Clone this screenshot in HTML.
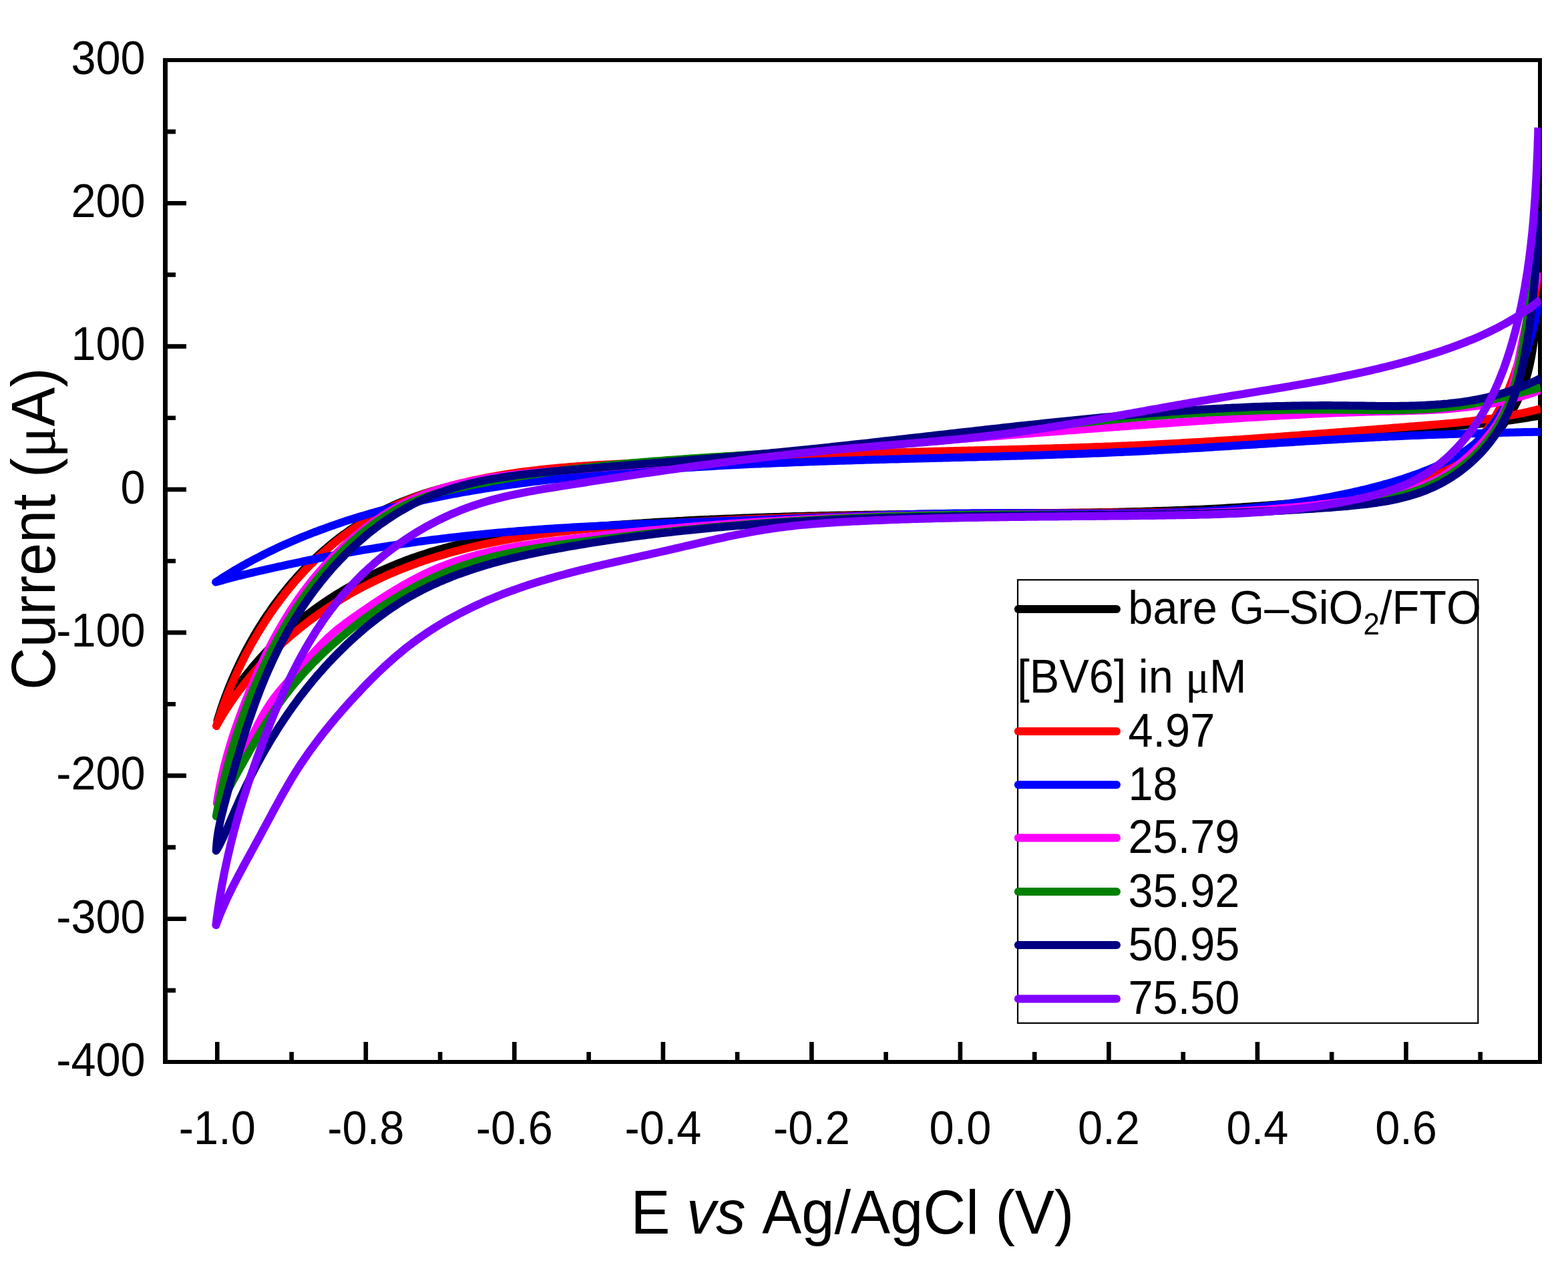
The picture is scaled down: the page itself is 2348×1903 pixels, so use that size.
<!DOCTYPE html>
<html><head><meta charset="utf-8"><title>Cyclic voltammograms</title>
<style>
html,body{margin:0;padding:0;background:#fff;}
svg{display:block;}
text{font-family:"Liberation Sans",Arial,sans-serif;fill:#000;font-kerning:none;}
.sym{font-family:"Liberation Serif","Times New Roman",serif;}
</style></head><body>
<svg xmlns="http://www.w3.org/2000/svg" width="2348" height="1903" viewBox="0 0 2348 1903">
<rect x="0" y="0" width="2348" height="1903" fill="#fff"/>
<path d="M247,1482.9h16 M247,1375.7h32 M247,1268.6h16 M247,1161.4h32 M247,1054.3h16 M247,947.1h32 M247,840.0h16 M247,732.9h32 M247,625.7h16 M247,518.6h32 M247,411.4h16 M247,304.3h32 M247,197.1h16 M325.3,1590v-30 M436.6,1590v-15 M547.8,1590v-30 M659.1,1590v-15 M770.3,1590v-30 M881.6,1590v-15 M992.9,1590v-30 M1104.1,1590v-15 M1215.4,1590v-30 M1326.6,1590v-15 M1437.9,1590v-30 M1549.2,1590v-15 M1660.4,1590v-30 M1771.7,1590v-15 M1882.9,1590v-30 M1994.2,1590v-15 M2105.5,1590v-30 M2216.7,1590v-15" stroke="#000" stroke-width="6.6" fill="none"/>
<rect x="247" y="90" width="2059" height="1500" fill="none" stroke="#000" stroke-width="6"/>
<rect x="244" y="87" width="7" height="1506" fill="#000"/>
<defs><clipPath id="pc"><rect x="250" y="93" width="2057.3" height="1494"/></clipPath></defs>
<g fill="none" stroke-width="12" stroke-linejoin="round" stroke-linecap="butt" clip-path="url(#pc)">
<path stroke="#000000" d="M2307.0,622.1 2302.0,623.0 2297.1,623.9 2292.1,624.7 2287.2,625.5 2282.2,626.3 2277.3,627.1 2272.3,627.8 2267.3,628.6 2262.4,629.2 2257.4,629.9 2252.4,630.6 2247.5,631.2 2242.5,631.8 2237.5,632.4 2232.6,632.9 2227.6,633.5 2222.6,634.0 2217.6,634.5 2212.7,635.0 2207.7,635.5 2202.7,635.9 2197.7,636.4 2192.8,636.8 2187.8,637.3 2182.8,637.7 2177.8,638.1 2172.8,638.5 2167.9,638.9 2162.9,639.3 2157.9,639.6 2152.9,640.0 2147.9,640.4 2142.9,640.7 2137.9,641.1 2132.9,641.5 2128.0,641.8 2123.0,642.2 2118.0,642.5 2113.0,642.9 2108.0,643.2 2103.0,643.6 2098.0,643.9 2093.0,644.3 2088.0,644.6 2083.0,645.0 2078.0,645.3 2073.0,645.7 2068.0,646.1 2063.0,646.4 2058.0,646.8 2053.0,647.1 2048.0,647.5 2043.0,647.9 2038.0,648.2 2033.0,648.6 2028.0,648.9 2022.9,649.3 2017.9,649.6 2012.9,650.0 2007.9,650.4 2002.9,650.7 1997.9,651.1 1992.9,651.4 1987.9,651.8 1982.9,652.1 1977.8,652.5 1972.8,652.8 1967.8,653.2 1962.8,653.6 1957.8,653.9 1952.8,654.3 1947.8,654.6 1942.7,655.0 1937.7,655.3 1932.7,655.7 1927.7,656.0 1922.7,656.3 1917.7,656.7 1912.6,657.0 1907.6,657.4 1902.6,657.7 1897.6,658.0 1892.6,658.4 1887.5,658.7 1882.5,659.1 1877.5,659.4 1872.5,659.7 1867.5,660.0 1862.4,660.4 1857.4,660.7 1852.4,661.0 1847.4,661.3 1842.4,661.7 1837.3,662.0 1832.3,662.3 1827.3,662.6 1822.3,662.9 1817.3,663.2 1812.2,663.5 1807.2,663.8 1802.2,664.1 1797.2,664.4 1792.2,664.7 1787.2,665.0 1782.1,665.3 1777.1,665.6 1772.1,665.9 1767.1,666.2 1762.1,666.4 1757.0,666.7 1752.0,667.0 1747.0,667.3 1742.0,667.5 1737.0,667.8 1732.0,668.0 1726.9,668.3 1721.9,668.6 1716.9,668.8 1711.9,669.1 1706.9,669.3 1701.9,669.5 1696.9,669.8 1691.8,670.0 1686.8,670.2 1681.8,670.5 1676.8,670.7 1671.8,670.9 1666.8,671.1 1661.8,671.3 1656.8,671.5 1651.8,671.7 1646.7,671.9 1641.7,672.1 1636.7,672.3 1631.7,672.5 1626.7,672.7 1621.7,672.9 1616.7,673.1 1611.7,673.3 1606.7,673.5 1601.7,673.6 1596.7,673.8 1591.7,674.0 1586.7,674.2 1581.7,674.3 1576.7,674.5 1571.7,674.7 1566.6,674.8 1561.6,675.0 1556.6,675.1 1551.6,675.3 1546.6,675.5 1541.6,675.6 1536.6,675.8 1531.6,675.9 1526.6,676.0 1521.6,676.2 1516.6,676.3 1511.6,676.5 1506.6,676.6 1501.6,676.8 1496.6,676.9 1491.6,677.0 1486.6,677.2 1481.6,677.3 1476.6,677.4 1471.6,677.6 1466.6,677.7 1461.6,677.8 1456.6,677.9 1451.6,678.1 1446.6,678.2 1441.6,678.3 1436.6,678.4 1431.6,678.6 1426.6,678.7 1421.6,678.8 1416.6,678.9 1411.6,679.1 1406.6,679.2 1401.6,679.3 1396.6,679.4 1391.6,679.5 1386.6,679.7 1381.6,679.8 1376.6,679.9 1371.6,680.0 1366.6,680.1 1361.6,680.3 1356.6,680.4 1351.6,680.5 1346.6,680.6 1341.6,680.7 1336.6,680.9 1331.6,681.0 1326.6,681.1 1321.6,681.2 1316.6,681.3 1311.6,681.5 1306.6,681.6 1301.6,681.7 1296.6,681.8 1291.6,682.0 1286.6,682.1 1281.6,682.2 1276.6,682.4 1271.6,682.5 1266.6,682.6 1261.6,682.8 1256.6,682.9 1251.5,683.0 1246.5,683.2 1241.5,683.3 1236.5,683.4 1231.5,683.6 1226.5,683.7 1221.5,683.9 1216.5,684.0 1211.5,684.2 1206.5,684.3 1201.5,684.5 1196.5,684.6 1191.5,684.8 1186.5,684.9 1181.4,685.1 1176.4,685.3 1171.4,685.4 1166.4,685.6 1161.4,685.8 1156.4,685.9 1151.4,686.1 1146.4,686.3 1141.4,686.5 1136.3,686.6 1131.3,686.8 1126.3,687.0 1121.3,687.2 1116.3,687.4 1111.3,687.6 1106.3,687.8 1101.2,688.0 1096.2,688.2 1091.2,688.4 1086.2,688.6 1081.2,688.8 1076.1,689.1 1071.1,689.3 1066.1,689.5 1061.1,689.7 1056.1,690.0 1051.0,690.2 1046.0,690.4 1041.0,690.7 1036.0,690.9 1030.9,691.2 1025.9,691.4 1020.9,691.7 1015.9,691.9 1010.8,692.2 1005.8,692.5 1000.8,692.7 995.7,693.0 990.7,693.3 985.7,693.6 980.7,693.9 975.6,694.2 970.6,694.5 965.6,694.8 960.5,695.1 955.5,695.4 950.4,695.7 945.4,696.0 940.4,696.4 935.3,696.7 930.3,697.0 925.2,697.4 920.2,697.7 915.2,698.1 910.1,698.4 905.1,698.8 900.0,699.2 895.0,699.5 889.9,699.9 884.9,700.3 879.8,700.7 874.8,701.1 869.7,701.5 864.7,701.9 859.6,702.3 854.6,702.7 849.5,703.1 844.5,703.6 839.4,704.0 834.4,704.4 829.3,704.9 824.3,705.3 819.2,705.8 814.2,706.3 809.1,706.8 804.1,707.3 799.0,707.8 794.0,708.3 788.9,708.9 783.9,709.5 778.9,710.0 773.9,710.7 768.8,711.3 763.8,711.9 758.8,712.6 753.8,713.3 748.8,714.0 743.9,714.7 738.9,715.5 733.9,716.2 729.0,717.0 724.0,717.9 719.1,718.7 714.1,719.6 709.2,720.5 704.3,721.5 699.4,722.5 694.5,723.5 689.7,724.5 684.8,725.6 680.0,726.7 675.2,727.9 670.3,729.1 665.5,730.3 660.8,731.6 656.0,732.9 651.2,734.2 646.5,735.6 641.8,737.0 637.1,738.5 632.4,740.0 627.7,741.6 623.1,743.2 618.4,744.9 613.8,746.6 609.3,748.3 604.7,750.1 600.1,751.9 595.6,753.8 591.1,755.8 586.6,757.8 582.2,759.9 577.7,762.0 573.3,764.1 568.9,766.4 564.6,768.6 560.2,771.0 555.9,773.4 551.6,775.8 547.3,778.4 543.1,780.9 538.9,783.5 534.7,786.2 530.6,789.0 526.4,791.7 522.3,794.6 518.3,797.5 514.2,800.4 510.2,803.4 506.2,806.4 502.3,809.5 498.4,812.7 494.5,815.8 490.6,819.1 486.8,822.3 483.0,825.7 479.2,829.0 475.5,832.4 471.8,835.9 468.2,839.4 464.5,842.9 461.0,846.5 457.4,850.1 453.9,853.7 450.4,857.4 447.0,861.1 443.6,864.9 440.2,868.7 436.9,872.5 433.6,876.4 430.3,880.3 427.1,884.2 423.9,888.2 420.8,892.2 417.7,896.2 414.6,900.3 411.6,904.3 408.6,908.5 405.7,912.6 402.8,916.8 399.9,921.0 397.1,925.2 394.3,929.4 391.6,933.7 388.9,938.0 386.2,942.3 383.6,946.6 381.0,951.0 378.5,955.4 376.0,959.8 373.5,964.2 371.1,968.6 368.7,973.1 366.4,977.6 364.1,982.0 361.8,986.6 359.6,991.1 357.5,995.6 355.3,1000.2 353.2,1004.7 351.2,1009.3 349.2,1013.9 347.2,1018.5 345.3,1023.1 343.4,1027.7 341.6,1032.3 339.8,1037.0 338.0,1041.6 336.3,1046.3 334.6,1050.9 333.0,1055.6 331.4,1060.3 329.9,1064.9 328.4,1069.6 326.9,1074.3 325.5,1079.0 327.5,1074.4 329.6,1070.0 331.8,1065.5 334.2,1061.1 336.6,1056.8 339.1,1052.5 341.7,1048.3 344.3,1044.0 347.1,1039.9 349.9,1035.7 352.7,1031.6 355.6,1027.5 358.6,1023.5 361.6,1019.5 364.7,1015.5 367.8,1011.5 371.0,1007.6 374.2,1003.7 377.4,999.8 380.6,995.9 383.9,992.1 387.3,988.3 390.6,984.5 394.0,980.8 397.4,977.1 400.9,973.4 404.4,969.8 407.9,966.2 411.5,962.7 415.1,959.2 418.7,955.7 422.3,952.2 426.0,948.9 429.7,945.5 433.5,942.2 437.2,938.9 441.0,935.6 444.8,932.4 448.7,929.3 452.6,926.1 456.5,923.1 460.4,920.0 464.4,917.0 468.4,914.0 472.4,911.1 476.5,908.2 480.6,905.3 484.7,902.5 488.8,899.7 493.0,896.9 497.2,894.2 501.4,891.5 505.7,888.9 509.9,886.3 514.2,883.7 518.6,881.2 522.9,878.7 527.3,876.2 531.7,873.8 536.1,871.4 540.5,869.1 545.0,866.8 549.5,864.5 554.0,862.3 558.5,860.1 563.1,857.9 567.6,855.8 572.2,853.7 576.8,851.7 581.5,849.7 586.1,847.7 590.8,845.8 595.4,843.9 600.1,842.1 604.8,840.2 609.5,838.5 614.3,836.7 619.0,835.0 623.8,833.4 628.5,831.7 633.3,830.2 638.1,828.6 642.9,827.1 647.7,825.6 652.6,824.2 657.4,822.8 662.3,821.5 667.1,820.1 672.0,818.9 676.8,817.6 681.7,816.4 686.6,815.3 691.5,814.1 696.4,813.0 701.3,812.0 706.2,811.0 711.1,810.0 716.0,809.0 720.9,808.1 725.8,807.2 730.8,806.3 735.7,805.5 740.6,804.7 745.6,803.9 750.5,803.1 755.5,802.4 760.4,801.7 765.4,801.0 770.4,800.3 775.3,799.7 780.3,799.0 785.3,798.4 790.2,797.8 795.2,797.2 800.2,796.7 805.2,796.1 810.2,795.6 815.2,795.1 820.1,794.6 825.1,794.1 830.1,793.6 835.1,793.2 840.1,792.7 845.1,792.2 850.1,791.8 855.1,791.4 860.1,790.9 865.1,790.5 870.1,790.1 875.1,789.6 880.0,789.2 885.0,788.8 890.0,788.4 895.0,788.0 900.0,787.6 905.0,787.3 910.0,786.9 915.0,786.5 920.0,786.1 925.0,785.8 930.0,785.4 935.0,785.1 940.0,784.7 945.0,784.4 950.0,784.0 955.0,783.7 960.0,783.4 965.0,783.1 970.0,782.8 975.0,782.4 980.0,782.1 985.0,781.8 990.0,781.5 995.0,781.3 1000.0,781.0 1005.0,780.7 1010.0,780.4 1015.0,780.1 1020.0,779.9 1025.0,779.6 1030.0,779.3 1035.0,779.1 1040.0,778.8 1045.0,778.6 1050.0,778.3 1055.0,778.1 1060.0,777.9 1065.0,777.6 1070.0,777.4 1075.0,777.2 1080.1,777.0 1085.1,776.8 1090.1,776.6 1095.1,776.4 1100.1,776.2 1105.1,776.0 1110.1,775.8 1115.1,775.6 1120.1,775.4 1125.1,775.2 1130.1,775.0 1135.1,774.8 1140.1,774.7 1145.2,774.5 1150.2,774.3 1155.2,774.2 1160.2,774.0 1165.2,773.9 1170.2,773.7 1175.2,773.6 1180.2,773.4 1185.2,773.3 1190.3,773.1 1195.3,773.0 1200.3,772.9 1205.3,772.7 1210.3,772.6 1215.3,772.5 1220.3,772.4 1225.3,772.2 1230.4,772.1 1235.4,772.0 1240.4,771.9 1245.4,771.8 1250.4,771.7 1255.4,771.6 1260.4,771.5 1265.5,771.4 1270.5,771.3 1275.5,771.2 1280.5,771.1 1285.5,771.0 1290.6,770.9 1295.6,770.8 1300.6,770.8 1305.6,770.7 1310.6,770.6 1315.6,770.5 1320.7,770.5 1325.7,770.4 1330.7,770.3 1335.7,770.2 1340.7,770.2 1345.8,770.1 1350.8,770.0 1355.8,770.0 1360.8,769.9 1365.8,769.9 1370.9,769.8 1375.9,769.8 1380.9,769.7 1385.9,769.6 1391.0,769.6 1396.0,769.5 1401.0,769.5 1406.0,769.4 1411.1,769.4 1416.1,769.4 1421.1,769.3 1426.1,769.3 1431.2,769.2 1436.2,769.2 1441.2,769.1 1446.2,769.1 1451.3,769.1 1456.3,769.0 1461.3,769.0 1466.3,769.0 1471.4,768.9 1476.4,768.9 1481.4,768.8 1486.4,768.8 1491.5,768.8 1496.5,768.7 1501.5,768.7 1506.6,768.7 1511.6,768.6 1516.6,768.6 1521.6,768.6 1526.7,768.5 1531.7,768.5 1536.7,768.4 1541.8,768.4 1546.8,768.4 1551.8,768.3 1556.8,768.3 1561.9,768.2 1566.9,768.2 1571.9,768.1 1576.9,768.1 1582.0,768.0 1587.0,768.0 1592.0,767.9 1597.0,767.9 1602.1,767.8 1607.1,767.7 1612.1,767.7 1617.1,767.6 1622.2,767.5 1627.2,767.5 1632.2,767.4 1637.2,767.3 1642.3,767.2 1647.3,767.1 1652.3,767.1 1657.3,767.0 1662.3,766.9 1667.4,766.8 1672.4,766.7 1677.4,766.6 1682.4,766.5 1687.4,766.3 1692.4,766.2 1697.4,766.1 1702.5,766.0 1707.5,765.9 1712.5,765.7 1717.5,765.6 1722.5,765.4 1727.5,765.3 1732.5,765.1 1737.5,765.0 1742.5,764.8 1747.5,764.7 1752.5,764.5 1757.6,764.3 1762.6,764.1 1767.6,763.9 1772.6,763.7 1777.6,763.5 1782.6,763.3 1787.6,763.1 1792.5,762.9 1797.5,762.7 1802.5,762.4 1807.5,762.2 1812.5,762.0 1817.5,761.7 1822.5,761.4 1827.5,761.2 1832.5,760.9 1837.5,760.6 1842.4,760.3 1847.4,760.1 1852.4,759.8 1857.4,759.4 1862.4,759.1 1867.3,758.8 1872.3,758.5 1877.3,758.1 1882.3,757.8 1887.2,757.4 1892.2,757.1 1897.2,756.7 1902.1,756.3 1907.1,755.9 1912.0,755.5 1917.0,755.1 1922.0,754.7 1926.9,754.3 1931.9,753.9 1936.8,753.4 1941.8,752.9 1946.8,752.5 1951.7,752.0 1956.7,751.5 1961.7,751.0 1966.6,750.4 1971.6,749.9 1976.6,749.3 1981.5,748.7 1986.5,748.1 1991.5,747.5 1996.5,746.9 2001.5,746.3 2006.4,745.6 2011.4,744.9 2016.4,744.2 2021.4,743.5 2026.4,742.7 2031.5,741.9 2036.5,741.1 2041.5,740.3 2046.5,739.5 2051.6,738.6 2056.6,737.7 2061.6,736.8 2066.7,735.8 2071.7,734.9 2076.7,733.8 2081.7,732.8 2086.7,731.7 2091.7,730.5 2096.7,729.3 2101.6,728.1 2106.5,726.8 2111.4,725.5 2116.3,724.1 2121.2,722.6 2126.0,721.1 2130.8,719.6 2135.6,717.9 2140.3,716.3 2145.0,714.5 2149.7,712.7 2154.3,710.8 2158.9,708.8 2163.4,706.8 2167.9,704.7 2172.3,702.5 2176.7,700.2 2181.1,697.9 2185.4,695.5 2189.6,692.9 2193.8,690.3 2197.9,687.6 2201.9,684.9 2205.9,682.0 2209.8,679.0 2213.6,675.9 2217.4,672.7 2221.1,669.5 2224.7,666.1 2228.3,662.6 2231.8,659.1 2235.2,655.4 2238.5,651.7 2241.7,647.9 2244.9,644.0 2248.0,640.0 2251.0,636.0 2253.9,631.9 2256.7,627.7 2259.4,623.4 2262.0,619.1 2264.6,614.8 2267.0,610.4 2269.4,605.9 2271.7,601.4 2273.8,596.8 2275.9,592.2 2277.9,587.5 2279.8,582.9 2281.5,578.1 2283.2,573.4 2284.8,568.6 2286.2,563.8 2287.6,559.0 2288.8,554.1 2290.0,549.2 2291.1,544.3 2292.1,539.4 2293.1,534.5 2293.9,529.5 2294.8,524.6 2295.5,519.6 2296.3,514.7 2297.0,509.7 2297.6,504.7 2298.2,499.7 2298.8,494.7 2299.4,489.8 2300.0,484.8 2300.6,479.8 2301.2,474.8 2301.8,469.9 2302.4,464.9 2303.0,460.0"/>
<path stroke="#ff0000" d="M2307.0,612.1 2302.1,613.3 2297.2,614.5 2292.3,615.7 2287.4,616.8 2282.5,617.8 2277.6,618.9 2272.6,619.9 2267.7,620.8 2262.8,621.7 2257.8,622.6 2252.9,623.5 2247.9,624.3 2243.0,625.1 2238.0,625.8 2233.1,626.6 2228.1,627.3 2223.1,627.9 2218.1,628.6 2213.2,629.2 2208.2,629.8 2203.2,630.4 2198.2,631.0 2193.2,631.5 2188.3,632.1 2183.3,632.6 2178.3,633.1 2173.3,633.6 2168.3,634.0 2163.3,634.5 2158.3,634.9 2153.3,635.4 2148.3,635.8 2143.3,636.2 2138.3,636.6 2133.3,637.0 2128.3,637.4 2123.3,637.8 2118.3,638.2 2113.3,638.6 2108.3,639.0 2103.3,639.4 2098.2,639.8 2093.2,640.2 2088.2,640.6 2083.2,641.0 2078.2,641.4 2073.2,641.8 2068.2,642.2 2063.2,642.6 2058.2,643.0 2053.2,643.4 2048.2,643.8 2043.2,644.2 2038.2,644.6 2033.2,645.0 2028.2,645.4 2023.2,645.8 2018.2,646.2 2013.2,646.6 2008.2,646.9 2003.2,647.3 1998.1,647.7 1993.1,648.1 1988.1,648.5 1983.1,648.9 1978.1,649.3 1973.1,649.6 1968.1,650.0 1963.1,650.4 1958.1,650.8 1953.1,651.1 1948.1,651.5 1943.1,651.9 1938.1,652.3 1933.1,652.6 1928.1,653.0 1923.0,653.3 1918.0,653.7 1913.0,654.1 1908.0,654.4 1903.0,654.8 1898.0,655.1 1893.0,655.5 1888.0,655.8 1883.0,656.2 1878.0,656.5 1873.0,656.9 1868.0,657.2 1862.9,657.5 1857.9,657.9 1852.9,658.2 1847.9,658.5 1842.9,658.9 1837.9,659.2 1832.9,659.5 1827.9,659.8 1822.9,660.1 1817.9,660.5 1812.8,660.8 1807.8,661.1 1802.8,661.4 1797.8,661.7 1792.8,662.0 1787.8,662.3 1782.8,662.6 1777.7,662.8 1772.7,663.1 1767.7,663.4 1762.7,663.7 1757.7,664.0 1752.7,664.2 1747.7,664.5 1742.6,664.7 1737.6,665.0 1732.6,665.3 1727.6,665.5 1722.6,665.8 1717.6,666.0 1712.5,666.2 1707.5,666.5 1702.5,666.7 1697.5,666.9 1692.5,667.1 1687.4,667.4 1682.4,667.6 1677.4,667.8 1672.4,668.0 1667.4,668.2 1662.3,668.4 1657.3,668.6 1652.3,668.8 1647.3,669.0 1642.2,669.1 1637.2,669.3 1632.2,669.5 1627.2,669.7 1622.2,669.8 1617.1,670.0 1612.1,670.2 1607.1,670.3 1602.1,670.5 1597.0,670.7 1592.0,670.8 1587.0,671.0 1582.0,671.1 1576.9,671.3 1571.9,671.4 1566.9,671.6 1561.9,671.7 1556.8,671.8 1551.8,672.0 1546.8,672.1 1541.8,672.3 1536.7,672.4 1531.7,672.5 1526.7,672.7 1521.7,672.8 1516.6,672.9 1511.6,673.0 1506.6,673.2 1501.6,673.3 1496.6,673.4 1491.5,673.5 1486.5,673.7 1481.5,673.8 1476.5,673.9 1471.4,674.0 1466.4,674.2 1461.4,674.3 1456.4,674.4 1451.3,674.5 1446.3,674.7 1441.3,674.8 1436.3,674.9 1431.3,675.0 1426.2,675.2 1421.2,675.3 1416.2,675.4 1411.2,675.5 1406.2,675.7 1401.2,675.8 1396.1,675.9 1391.1,676.1 1386.1,676.2 1381.1,676.3 1376.1,676.5 1371.1,676.6 1366.0,676.7 1361.0,676.9 1356.0,677.0 1351.0,677.2 1346.0,677.3 1341.0,677.5 1336.0,677.6 1330.9,677.8 1325.9,677.9 1320.9,678.1 1315.9,678.2 1310.9,678.4 1305.9,678.6 1300.9,678.7 1295.9,678.9 1290.9,679.1 1285.9,679.3 1280.9,679.4 1275.9,679.6 1270.9,679.8 1265.9,680.0 1260.9,680.2 1255.9,680.4 1250.9,680.6 1245.9,680.8 1240.9,681.0 1235.9,681.2 1230.9,681.4 1225.8,681.6 1220.8,681.8 1215.8,682.0 1210.8,682.2 1205.8,682.4 1200.8,682.6 1195.8,682.8 1190.8,683.0 1185.8,683.3 1180.8,683.5 1175.8,683.7 1170.8,683.9 1165.8,684.1 1160.8,684.3 1155.8,684.6 1150.8,684.8 1145.8,685.0 1140.8,685.2 1135.8,685.5 1130.8,685.7 1125.8,685.9 1120.8,686.1 1115.8,686.4 1110.8,686.6 1105.8,686.8 1100.7,687.0 1095.7,687.3 1090.7,687.5 1085.7,687.7 1080.7,687.9 1075.7,688.2 1070.7,688.4 1065.6,688.6 1060.6,688.8 1055.6,689.0 1050.6,689.3 1045.5,689.5 1040.5,689.7 1035.5,689.9 1030.5,690.1 1025.4,690.3 1020.4,690.6 1015.4,690.8 1010.3,691.0 1005.3,691.2 1000.3,691.4 995.2,691.6 990.2,691.8 985.1,692.0 980.1,692.2 975.0,692.4 970.0,692.6 965.0,692.8 959.9,693.1 954.9,693.3 949.8,693.5 944.8,693.7 939.7,693.9 934.7,694.2 929.6,694.4 924.6,694.7 919.5,694.9 914.5,695.2 909.4,695.4 904.4,695.7 899.3,696.0 894.3,696.3 889.2,696.6 884.2,696.9 879.1,697.2 874.1,697.6 869.1,697.9 864.0,698.3 859.0,698.7 853.9,699.0 848.9,699.5 843.9,699.9 838.9,700.3 833.8,700.8 828.8,701.2 823.8,701.7 818.8,702.2 813.8,702.8 808.8,703.3 803.8,703.9 798.8,704.5 793.8,705.1 788.8,705.7 783.8,706.3 778.8,707.0 773.8,707.7 768.9,708.4 763.9,709.2 758.9,709.9 754.0,710.7 749.0,711.6 744.1,712.4 739.1,713.3 734.2,714.2 729.2,715.1 724.3,716.1 719.4,717.1 714.5,718.1 709.6,719.1 704.7,720.2 699.8,721.3 694.9,722.5 690.0,723.6 685.1,724.9 680.3,726.1 675.4,727.4 670.6,728.7 665.7,730.1 660.9,731.4 656.1,732.9 651.3,734.3 646.5,735.9 641.8,737.4 637.0,739.0 632.3,740.6 627.6,742.3 622.9,744.0 618.2,745.8 613.5,747.6 608.9,749.4 604.3,751.3 599.7,753.3 595.1,755.3 590.6,757.3 586.0,759.4 581.5,761.5 577.1,763.7 572.6,765.9 568.2,768.2 563.8,770.6 559.5,773.0 555.1,775.4 550.8,777.9 546.6,780.5 542.3,783.1 538.1,785.8 533.9,788.5 529.8,791.3 525.7,794.1 521.6,797.0 517.6,799.9 513.6,802.9 509.6,805.9 505.7,809.0 501.8,812.2 497.9,815.3 494.1,818.6 490.3,821.8 486.5,825.1 482.8,828.5 479.1,831.9 475.4,835.3 471.8,838.8 468.2,842.4 464.6,845.9 461.1,849.5 457.6,853.2 454.2,856.9 450.8,860.6 447.4,864.3 444.0,868.1 440.7,871.9 437.5,875.8 434.2,879.7 431.0,883.6 427.9,887.5 424.8,891.5 421.7,895.5 418.6,899.6 415.6,903.6 412.6,907.7 409.7,911.8 406.8,916.0 403.9,920.1 401.1,924.3 398.3,928.6 395.6,932.8 392.9,937.1 390.2,941.4 387.5,945.7 384.9,950.0 382.4,954.4 379.8,958.7 377.3,963.1 374.9,967.5 372.5,972.0 370.1,976.4 367.7,980.9 365.4,985.4 363.2,989.9 360.9,994.4 358.7,998.9 356.6,1003.5 354.4,1008.0 352.4,1012.6 350.3,1017.2 348.3,1021.8 346.3,1026.4 344.4,1031.0 342.5,1035.6 340.6,1040.3 338.8,1044.9 337.0,1049.6 335.3,1054.2 333.5,1058.9 331.9,1063.6 330.2,1068.2 328.6,1072.9 327.0,1077.6 325.5,1082.3 324.0,1087.0 326.4,1082.7 328.9,1078.3 331.4,1074.0 334.0,1069.8 336.6,1065.5 339.3,1061.3 342.0,1057.2 344.7,1053.0 347.5,1048.9 350.4,1044.8 353.3,1040.7 356.2,1036.7 359.2,1032.7 362.3,1028.7 365.3,1024.7 368.5,1020.8 371.6,1016.9 374.8,1013.1 378.1,1009.3 381.3,1005.5 384.7,1001.7 388.0,998.0 391.4,994.2 394.9,990.6 398.3,986.9 401.8,983.3 405.4,979.8 409.0,976.2 412.6,972.7 416.2,969.2 419.9,965.8 423.6,962.4 427.4,959.0 431.2,955.6 435.0,952.3 438.8,949.1 442.7,945.8 446.6,942.6 450.5,939.4 454.5,936.3 458.5,933.2 462.5,930.1 466.5,927.1 470.6,924.1 474.7,921.2 478.8,918.2 482.9,915.4 487.1,912.5 491.3,909.7 495.5,906.9 499.7,904.2 504.0,901.5 508.3,898.8 512.6,896.2 516.9,893.6 521.2,891.1 525.5,888.6 529.9,886.1 534.3,883.7 538.7,881.3 543.1,879.0 547.5,876.7 552.0,874.4 556.4,872.2 560.9,870.0 565.4,867.8 569.9,865.7 574.4,863.6 578.9,861.6 583.5,859.6 588.0,857.6 592.6,855.7 597.2,853.8 601.8,852.0 606.4,850.1 611.0,848.3 615.6,846.6 620.3,844.9 624.9,843.2 629.6,841.5 634.3,839.9 639.0,838.3 643.7,836.8 648.4,835.3 653.1,833.8 657.8,832.3 662.6,830.9 667.3,829.5 672.1,828.1 676.9,826.8 681.6,825.5 686.4,824.2 691.2,822.9 696.1,821.7 700.9,820.5 705.7,819.3 710.5,818.2 715.4,817.0 720.2,815.9 725.1,814.9 730.0,813.8 734.9,812.8 739.7,811.8 744.6,810.8 749.5,809.9 754.4,809.0 759.4,808.0 764.3,807.2 769.2,806.3 774.2,805.5 779.1,804.6 784.0,803.8 789.0,803.1 794.0,802.3 798.9,801.6 803.9,800.9 808.9,800.1 813.9,799.5 818.8,798.8 823.8,798.2 828.8,797.5 833.8,796.9 838.8,796.3 843.8,795.7 848.8,795.2 853.9,794.6 858.9,794.1 863.9,793.5 868.9,793.0 874.0,792.5 879.0,792.1 884.0,791.6 889.1,791.1 894.1,790.7 899.1,790.3 904.2,789.8 909.2,789.4 914.3,789.0 919.3,788.6 924.4,788.2 929.4,787.9 934.5,787.5 939.5,787.1 944.6,786.8 949.6,786.5 954.7,786.1 959.7,785.8 964.8,785.5 969.8,785.2 974.9,784.9 979.9,784.6 985.0,784.3 990.0,784.0 995.1,783.7 1000.1,783.4 1005.2,783.1 1010.2,782.8 1015.2,782.5 1020.3,782.3 1025.3,782.0 1030.4,781.7 1035.4,781.5 1040.4,781.2 1045.4,781.0 1050.5,780.7 1055.5,780.5 1060.5,780.2 1065.6,780.0 1070.6,779.7 1075.6,779.5 1080.6,779.2 1085.7,779.0 1090.7,778.8 1095.7,778.6 1100.7,778.3 1105.7,778.1 1110.7,777.9 1115.8,777.7 1120.8,777.5 1125.8,777.3 1130.8,777.0 1135.8,776.8 1140.8,776.6 1145.8,776.4 1150.8,776.2 1155.8,776.1 1160.8,775.9 1165.8,775.7 1170.8,775.5 1175.9,775.3 1180.9,775.1 1185.9,775.0 1190.9,774.8 1195.9,774.6 1200.9,774.4 1205.9,774.3 1210.8,774.1 1215.8,773.9 1220.8,773.8 1225.8,773.6 1230.8,773.5 1235.8,773.3 1240.8,773.2 1245.8,773.0 1250.8,772.9 1255.8,772.7 1260.8,772.6 1265.8,772.5 1270.8,772.3 1275.8,772.2 1280.8,772.1 1285.7,771.9 1290.7,771.8 1295.7,771.7 1300.7,771.6 1305.7,771.5 1310.7,771.3 1315.7,771.2 1320.7,771.1 1325.7,771.0 1330.6,770.9 1335.6,770.8 1340.6,770.7 1345.6,770.6 1350.6,770.5 1355.6,770.4 1360.6,770.3 1365.6,770.2 1370.6,770.1 1375.5,770.0 1380.5,769.9 1385.5,769.9 1390.5,769.8 1395.5,769.7 1400.5,769.6 1405.5,769.5 1410.5,769.5 1415.5,769.4 1420.4,769.3 1425.4,769.2 1430.4,769.2 1435.4,769.1 1440.4,769.0 1445.4,769.0 1450.4,768.9 1455.4,768.9 1460.4,768.8 1465.4,768.7 1470.4,768.7 1475.4,768.6 1480.4,768.6 1485.3,768.5 1490.3,768.5 1495.3,768.4 1500.3,768.4 1505.3,768.3 1510.3,768.3 1515.3,768.3 1520.3,768.2 1525.3,768.2 1530.3,768.2 1535.3,768.1 1540.3,768.1 1545.3,768.1 1550.4,768.0 1555.4,768.0 1560.4,768.0 1565.4,767.9 1570.4,767.9 1575.4,767.9 1580.4,767.9 1585.4,767.9 1590.4,767.8 1595.4,767.8 1600.5,767.8 1605.5,767.8 1610.5,767.8 1615.5,767.8 1620.5,767.7 1625.5,767.7 1630.6,767.7 1635.6,767.7 1640.6,767.7 1645.6,767.7 1650.7,767.6 1655.7,767.6 1660.7,767.6 1665.7,767.6 1670.8,767.6 1675.8,767.5 1680.8,767.5 1685.8,767.5 1690.9,767.4 1695.9,767.4 1700.9,767.4 1706.0,767.3 1711.0,767.3 1716.0,767.2 1721.0,767.2 1726.1,767.1 1731.1,767.0 1736.1,766.9 1741.1,766.9 1746.2,766.8 1751.2,766.7 1756.2,766.6 1761.3,766.5 1766.3,766.4 1771.3,766.3 1776.3,766.1 1781.4,766.0 1786.4,765.9 1791.4,765.7 1796.4,765.6 1801.4,765.4 1806.5,765.2 1811.5,765.0 1816.5,764.8 1821.5,764.6 1826.5,764.4 1831.6,764.2 1836.6,764.0 1841.6,763.7 1846.6,763.5 1851.6,763.2 1856.6,762.9 1861.6,762.6 1866.6,762.3 1871.6,762.0 1876.6,761.7 1881.7,761.4 1886.7,761.0 1891.7,760.6 1896.7,760.3 1901.6,759.9 1906.6,759.5 1911.6,759.0 1916.6,758.6 1921.6,758.2 1926.6,757.7 1931.6,757.2 1936.6,756.7 1941.5,756.2 1946.5,755.7 1951.5,755.2 1956.5,754.6 1961.4,754.0 1966.4,753.4 1971.4,752.8 1976.3,752.2 1981.3,751.6 1986.3,750.9 1991.2,750.2 1996.2,749.5 2001.1,748.8 2006.1,748.1 2011.0,747.3 2016.0,746.5 2020.9,745.7 2025.8,744.9 2030.8,744.0 2035.7,743.1 2040.6,742.2 2045.5,741.2 2050.4,740.2 2055.3,739.2 2060.2,738.1 2065.1,737.0 2070.0,735.8 2074.8,734.6 2079.7,733.3 2084.5,732.0 2089.4,730.6 2094.2,729.2 2099.0,727.7 2103.8,726.1 2108.6,724.5 2113.4,722.8 2118.1,721.1 2122.8,719.3 2127.5,717.4 2132.2,715.4 2136.8,713.4 2141.4,711.3 2146.0,709.2 2150.5,706.9 2154.9,704.6 2159.3,702.2 2163.7,699.7 2167.9,697.2 2172.2,694.5 2176.3,691.8 2180.4,689.0 2184.4,686.1 2188.3,683.1 2192.2,680.0 2195.9,676.9 2199.6,673.6 2203.2,670.3 2206.7,666.8 2210.1,663.3 2213.4,659.6 2216.6,655.9 2219.7,652.1 2222.7,648.2 2225.7,644.3 2228.6,640.2 2231.3,636.1 2234.1,631.9 2236.7,627.7 2239.2,623.4 2241.7,619.0 2244.1,614.6 2246.5,610.2 2248.7,605.7 2250.9,601.1 2253.1,596.5 2255.2,591.9 2257.2,587.2 2259.2,582.5 2261.1,577.8 2262.9,573.0 2264.7,568.3 2266.5,563.5 2268.2,558.7 2269.8,553.9 2271.5,549.0 2273.0,544.2 2274.6,539.4 2276.1,534.5 2277.5,529.7 2278.9,524.9 2280.3,520.1 2281.7,515.2 2283.0,510.4 2284.3,505.6 2285.5,500.7 2286.7,495.9 2287.9,491.1 2289.1,486.2 2290.3,481.4 2291.4,476.5 2292.5,471.7 2293.5,466.8 2294.6,462.0 2295.6,457.1 2296.6,452.2 2297.6,447.3 2298.6,442.4 2299.6,437.6 2300.5,432.7 2301.4,427.7 2302.3,422.8 2303.2,417.9 2304.1,413.0 2305.0,408.0"/>
<path stroke="#0000ff" d="M2307.0,646.6 2302.0,646.7 2297.0,646.8 2291.9,646.9 2286.9,647.0 2281.9,647.1 2276.9,647.2 2271.8,647.3 2266.8,647.4 2261.8,647.5 2256.8,647.7 2251.8,647.8 2246.7,647.9 2241.7,648.0 2236.7,648.2 2231.7,648.3 2226.7,648.4 2221.7,648.5 2216.6,648.7 2211.6,648.8 2206.6,649.0 2201.6,649.1 2196.6,649.2 2191.6,649.4 2186.5,649.5 2181.5,649.7 2176.5,649.9 2171.5,650.0 2166.5,650.2 2161.5,650.4 2156.4,650.5 2151.4,650.7 2146.4,650.9 2141.4,651.1 2136.4,651.3 2131.4,651.5 2126.3,651.7 2121.3,651.9 2116.3,652.1 2111.3,652.3 2106.3,652.5 2101.3,652.7 2096.3,652.9 2091.2,653.2 2086.2,653.4 2081.2,653.6 2076.2,653.9 2071.2,654.1 2066.2,654.4 2061.1,654.6 2056.1,654.9 2051.1,655.2 2046.1,655.4 2041.1,655.7 2036.1,656.0 2031.0,656.2 2026.0,656.5 2021.0,656.8 2016.0,657.1 2011.0,657.4 2006.0,657.6 2000.9,657.9 1995.9,658.2 1990.9,658.5 1985.9,658.8 1980.9,659.1 1975.8,659.4 1970.8,659.7 1965.8,660.0 1960.8,660.3 1955.8,660.6 1950.8,661.0 1945.7,661.3 1940.7,661.6 1935.7,661.9 1930.7,662.2 1925.7,662.5 1920.7,662.8 1915.6,663.1 1910.6,663.5 1905.6,663.8 1900.6,664.1 1895.6,664.4 1890.5,664.7 1885.5,665.1 1880.5,665.4 1875.5,665.7 1870.5,666.0 1865.5,666.3 1860.4,666.6 1855.4,667.0 1850.4,667.3 1845.4,667.6 1840.4,667.9 1835.3,668.2 1830.3,668.5 1825.3,668.8 1820.3,669.1 1815.3,669.5 1810.3,669.8 1805.2,670.1 1800.2,670.4 1795.2,670.7 1790.2,671.0 1785.2,671.3 1780.1,671.6 1775.1,671.9 1770.1,672.1 1765.1,672.4 1760.1,672.7 1755.0,673.0 1750.0,673.3 1745.0,673.6 1740.0,673.8 1735.0,674.1 1730.0,674.4 1724.9,674.6 1719.9,674.9 1714.9,675.2 1709.9,675.4 1704.9,675.7 1699.8,675.9 1694.8,676.2 1689.8,676.4 1684.8,676.6 1679.8,676.9 1674.7,677.1 1669.7,677.3 1664.7,677.5 1659.7,677.7 1654.7,678.0 1649.7,678.2 1644.6,678.4 1639.6,678.6 1634.6,678.8 1629.6,679.0 1624.6,679.2 1619.5,679.4 1614.5,679.6 1609.5,679.7 1604.5,679.9 1599.5,680.1 1594.4,680.3 1589.4,680.5 1584.4,680.6 1579.4,680.8 1574.4,681.0 1569.4,681.1 1564.3,681.3 1559.3,681.5 1554.3,681.6 1549.3,681.8 1544.3,681.9 1539.2,682.1 1534.2,682.2 1529.2,682.4 1524.2,682.5 1519.2,682.7 1514.2,682.8 1509.1,683.0 1504.1,683.1 1499.1,683.3 1494.1,683.4 1489.1,683.5 1484.0,683.7 1479.0,683.8 1474.0,684.0 1469.0,684.1 1464.0,684.2 1459.0,684.4 1453.9,684.5 1448.9,684.6 1443.9,684.8 1438.9,684.9 1433.9,685.0 1428.8,685.1 1423.8,685.3 1418.8,685.4 1413.8,685.5 1408.8,685.7 1403.8,685.8 1398.7,685.9 1393.7,686.1 1388.7,686.2 1383.7,686.3 1378.7,686.4 1373.6,686.6 1368.6,686.7 1363.6,686.8 1358.6,687.0 1353.6,687.1 1348.6,687.2 1343.5,687.4 1338.5,687.5 1333.5,687.6 1328.5,687.8 1323.5,687.9 1318.5,688.1 1313.4,688.2 1308.4,688.3 1303.4,688.5 1298.4,688.6 1293.4,688.8 1288.4,688.9 1283.3,689.1 1278.3,689.2 1273.3,689.4 1268.3,689.5 1263.3,689.7 1258.3,689.8 1253.2,690.0 1248.2,690.2 1243.2,690.3 1238.2,690.5 1233.2,690.7 1228.2,690.8 1223.1,691.0 1218.1,691.2 1213.1,691.3 1208.1,691.5 1203.1,691.7 1198.1,691.9 1193.0,692.1 1188.0,692.3 1183.0,692.5 1178.0,692.7 1173.0,692.9 1168.0,693.1 1163.0,693.3 1157.9,693.5 1152.9,693.7 1147.9,693.9 1142.9,694.1 1137.9,694.4 1132.9,694.6 1127.9,694.8 1122.8,695.0 1117.8,695.3 1112.8,695.5 1107.8,695.8 1102.8,696.0 1097.8,696.3 1092.7,696.5 1087.7,696.8 1082.7,697.1 1077.7,697.3 1072.7,697.6 1067.7,697.9 1062.7,698.2 1057.7,698.5 1052.6,698.7 1047.6,699.0 1042.6,699.3 1037.6,699.7 1032.6,700.0 1027.6,700.3 1022.6,700.6 1017.5,700.9 1012.5,701.3 1007.5,701.6 1002.5,701.9 997.5,702.3 992.5,702.6 987.5,703.0 982.5,703.4 977.4,703.7 972.4,704.1 967.4,704.5 962.4,704.9 957.4,705.3 952.4,705.7 947.4,706.1 942.4,706.5 937.3,706.9 932.3,707.3 927.3,707.8 922.3,708.2 917.3,708.7 912.3,709.1 907.3,709.6 902.3,710.0 897.3,710.5 892.2,711.0 887.2,711.5 882.2,711.9 877.2,712.4 872.2,712.9 867.2,713.5 862.2,714.0 857.2,714.5 852.2,715.0 847.2,715.6 842.1,716.1 837.1,716.7 832.1,717.2 827.1,717.8 822.1,718.4 817.1,719.0 812.1,719.6 807.1,720.2 802.1,720.8 797.1,721.4 792.1,722.1 787.1,722.7 782.1,723.4 777.1,724.0 772.1,724.7 767.1,725.4 762.1,726.1 757.1,726.8 752.1,727.5 747.1,728.3 742.2,729.0 737.2,729.8 732.2,730.6 727.2,731.3 722.3,732.1 717.3,733.0 712.3,733.8 707.4,734.6 702.4,735.5 697.4,736.3 692.5,737.2 687.5,738.1 682.6,739.0 677.6,739.9 672.7,740.9 667.8,741.8 662.8,742.8 657.9,743.8 653.0,744.8 648.1,745.8 643.2,746.8 638.3,747.9 633.4,749.0 628.5,750.1 623.6,751.2 618.7,752.3 613.8,753.4 608.9,754.6 604.1,755.7 599.2,756.9 594.3,758.2 589.5,759.4 584.6,760.6 579.8,761.9 575.0,763.2 570.1,764.5 565.3,765.8 560.5,767.2 555.7,768.6 550.9,770.0 546.1,771.4 541.3,772.8 536.5,774.3 531.7,775.7 527.0,777.2 522.2,778.8 517.4,780.3 512.7,781.9 508.0,783.5 503.2,785.1 498.5,786.7 493.8,788.4 489.1,790.1 484.4,791.8 479.7,793.5 475.0,795.3 470.3,797.0 465.7,798.8 461.0,800.7 456.4,802.5 451.7,804.4 447.1,806.3 442.5,808.3 437.9,810.2 433.3,812.2 428.7,814.2 424.1,816.3 419.6,818.3 415.0,820.4 410.5,822.6 406.0,824.7 401.5,826.9 397.0,829.1 392.5,831.4 388.1,833.7 383.6,836.0 379.2,838.3 374.8,840.7 370.4,843.1 366.0,845.5 361.6,848.0 357.3,850.5 353.0,853.0 348.6,855.5 344.4,858.1 340.1,860.8 335.8,863.4 331.6,866.1 327.4,868.9 323.2,871.6 328.0,870.2 332.7,868.9 337.5,867.5 342.3,866.2 347.1,865.0 351.9,863.7 356.7,862.5 361.6,861.3 366.4,860.1 371.3,859.0 376.1,857.8 381.0,856.7 385.9,855.5 390.7,854.4 395.6,853.3 400.5,852.2 405.4,851.1 410.3,850.0 415.2,848.9 420.1,847.8 425.0,846.8 429.9,845.7 434.8,844.6 439.7,843.6 444.6,842.6 449.5,841.5 454.4,840.5 459.3,839.5 464.2,838.5 469.1,837.5 474.1,836.5 479.0,835.5 483.9,834.6 488.8,833.6 493.8,832.7 498.7,831.7 503.6,830.8 508.6,829.9 513.5,829.0 518.4,828.1 523.4,827.2 528.3,826.3 533.2,825.4 538.2,824.6 543.1,823.7 548.1,822.9 553.0,822.1 558.0,821.3 562.9,820.5 567.9,819.7 572.8,818.9 577.8,818.1 582.7,817.3 587.7,816.6 592.7,815.8 597.6,815.1 602.6,814.4 607.6,813.7 612.5,813.0 617.5,812.3 622.5,811.6 627.4,810.9 632.4,810.2 637.4,809.6 642.4,808.9 647.3,808.3 652.3,807.7 657.3,807.1 662.3,806.5 667.3,805.9 672.2,805.3 677.2,804.7 682.2,804.1 687.2,803.6 692.2,803.0 697.2,802.5 702.2,801.9 707.2,801.4 712.1,800.9 717.1,800.4 722.1,799.9 727.1,799.4 732.1,799.0 737.1,798.5 742.1,798.0 747.1,797.6 752.1,797.1 757.1,796.7 762.1,796.3 767.1,795.9 772.1,795.5 777.1,795.1 782.2,794.7 787.2,794.3 792.2,793.9 797.2,793.5 802.2,793.2 807.2,792.8 812.2,792.5 817.2,792.1 822.2,791.8 827.2,791.4 832.3,791.1 837.3,790.8 842.3,790.5 847.3,790.2 852.3,789.9 857.3,789.6 862.3,789.3 867.4,789.0 872.4,788.7 877.4,788.5 882.4,788.2 887.4,787.9 892.5,787.7 897.5,787.4 902.5,787.2 907.5,786.9 912.5,786.7 917.6,786.4 922.6,786.2 927.6,786.0 932.6,785.8 937.7,785.5 942.7,785.3 947.7,785.1 952.7,784.9 957.7,784.7 962.8,784.5 967.8,784.3 972.8,784.1 977.8,783.9 982.9,783.7 987.9,783.5 992.9,783.3 997.9,783.1 1003.0,782.9 1008.0,782.7 1013.0,782.6 1018.0,782.4 1023.0,782.2 1028.1,782.0 1033.1,781.8 1038.1,781.7 1043.1,781.5 1048.2,781.3 1053.2,781.2 1058.2,781.0 1063.2,780.8 1068.2,780.6 1073.3,780.5 1078.3,780.3 1083.3,780.1 1088.3,780.0 1093.4,779.8 1098.4,779.6 1103.4,779.4 1108.4,779.3 1113.4,779.1 1118.4,778.9 1123.5,778.7 1128.5,778.6 1133.5,778.4 1138.5,778.2 1143.5,778.0 1148.5,777.8 1153.6,777.7 1158.6,777.5 1163.6,777.3 1168.6,777.1 1173.6,776.9 1178.6,776.7 1183.6,776.5 1188.6,776.3 1193.6,776.1 1198.6,775.9 1203.7,775.7 1208.7,775.5 1213.7,775.3 1218.7,775.1 1223.7,774.9 1228.7,774.7 1233.7,774.5 1238.7,774.4 1243.7,774.2 1248.7,774.0 1253.7,773.8 1258.7,773.6 1263.7,773.4 1268.7,773.2 1273.8,773.0 1278.8,772.8 1283.8,772.6 1288.8,772.4 1293.8,772.3 1298.8,772.1 1303.8,771.9 1308.8,771.7 1313.8,771.6 1318.8,771.4 1323.8,771.2 1328.8,771.1 1333.8,770.9 1338.8,770.7 1343.9,770.6 1348.9,770.4 1353.9,770.3 1358.9,770.1 1363.9,770.0 1368.9,769.9 1373.9,769.7 1378.9,769.6 1384.0,769.5 1389.0,769.4 1394.0,769.3 1399.0,769.1 1404.0,769.0 1409.0,768.9 1414.0,768.9 1419.1,768.8 1424.1,768.7 1429.1,768.6 1434.1,768.5 1439.1,768.5 1444.2,768.4 1449.2,768.4 1454.2,768.3 1459.2,768.3 1464.3,768.2 1469.3,768.2 1474.3,768.2 1479.4,768.2 1484.4,768.2 1489.4,768.2 1494.5,768.2 1499.5,768.2 1504.5,768.2 1509.6,768.2 1514.6,768.2 1519.6,768.2 1524.7,768.2 1529.7,768.2 1534.7,768.3 1539.8,768.3 1544.8,768.3 1549.8,768.3 1554.9,768.4 1559.9,768.4 1565.0,768.4 1570.0,768.4 1575.0,768.5 1580.1,768.5 1585.1,768.5 1590.1,768.6 1595.2,768.6 1600.2,768.6 1605.3,768.6 1610.3,768.6 1615.3,768.7 1620.4,768.7 1625.4,768.7 1630.5,768.7 1635.5,768.7 1640.5,768.7 1645.6,768.7 1650.6,768.7 1655.6,768.7 1660.7,768.7 1665.7,768.7 1670.7,768.7 1675.8,768.6 1680.8,768.6 1685.8,768.6 1690.9,768.5 1695.9,768.5 1700.9,768.4 1706.0,768.3 1711.0,768.3 1716.0,768.2 1721.0,768.1 1726.1,768.0 1731.1,767.9 1736.1,767.8 1741.1,767.7 1746.2,767.5 1751.2,767.4 1756.2,767.2 1761.2,767.1 1766.2,766.9 1771.3,766.7 1776.3,766.5 1781.3,766.3 1786.3,766.1 1791.3,765.9 1796.3,765.7 1801.3,765.4 1806.3,765.1 1811.3,764.9 1816.3,764.6 1821.3,764.3 1826.3,764.0 1831.3,763.6 1836.3,763.3 1841.3,762.9 1846.3,762.6 1851.3,762.2 1856.3,761.8 1861.3,761.4 1866.3,760.9 1871.3,760.5 1876.2,760.0 1881.2,759.6 1886.2,759.1 1891.2,758.5 1896.1,758.0 1901.1,757.5 1906.1,756.9 1911.1,756.3 1916.0,755.7 1921.0,755.1 1925.9,754.5 1930.9,753.8 1935.8,753.1 1940.8,752.4 1945.7,751.7 1950.7,751.0 1955.6,750.2 1960.6,749.4 1965.5,748.6 1970.5,747.8 1975.4,747.0 1980.3,746.1 1985.2,745.2 1990.2,744.3 1995.1,743.4 2000.0,742.4 2004.9,741.4 2009.8,740.4 2014.8,739.4 2019.7,738.4 2024.6,737.3 2029.5,736.2 2034.4,735.1 2039.3,733.9 2044.2,732.8 2049.0,731.6 2053.9,730.3 2058.8,729.1 2063.7,727.8 2068.5,726.5 2073.4,725.1 2078.3,723.8 2083.1,722.4 2087.9,720.9 2092.8,719.4 2097.6,717.9 2102.4,716.4 2107.2,714.8 2112.0,713.1 2116.7,711.5 2121.5,709.8 2126.3,708.0 2131.0,706.2 2135.7,704.4 2140.4,702.5 2145.1,700.6 2149.8,698.6 2154.4,696.6 2159.0,694.5 2163.6,692.3 2168.2,690.1 2172.7,687.8 2177.1,685.4 2181.5,683.0 2185.8,680.5 2190.0,677.8 2194.2,675.1 2198.3,672.3 2202.2,669.3 2206.1,666.3 2209.9,663.1 2213.6,659.8 2217.2,656.4 2220.6,652.9 2224.0,649.4 2227.3,645.7 2230.5,641.9 2233.6,638.1 2236.6,634.1 2239.4,630.1 2242.2,626.0 2244.9,621.8 2247.5,617.5 2250.0,613.2 2252.3,608.8 2254.7,604.4 2256.9,599.9 2259.0,595.4 2261.1,590.8 2263.2,586.2 2265.2,581.6 2267.1,576.9 2269.0,572.2 2270.9,567.5 2272.7,562.8 2274.5,558.1 2276.2,553.4 2277.9,548.6 2279.6,543.9 2281.3,539.1 2282.9,534.4 2284.5,529.6 2286.1,524.8 2287.6,520.1 2289.1,515.3 2290.6,510.5 2292.0,505.7 2293.4,500.9 2294.7,496.1 2296.0,491.3 2297.2,486.4 2298.4,481.6 2299.5,476.7 2300.5,471.8 2301.5,466.9 2302.4,461.9 2303.2,457.0 2304.0,452.0"/>
<path stroke="#ff00ff" d="M2307.0,583.8 2302.2,585.6 2297.4,587.3 2292.6,589.0 2287.8,590.6 2282.9,592.1 2278.1,593.6 2273.3,595.0 2268.4,596.3 2263.5,597.6 2258.7,598.8 2253.8,600.0 2248.9,601.1 2244.0,602.1 2239.1,603.1 2234.2,604.0 2229.3,604.9 2224.4,605.7 2219.4,606.5 2214.5,607.3 2209.6,608.0 2204.6,608.6 2199.7,609.2 2194.7,609.8 2189.8,610.4 2184.8,610.9 2179.8,611.3 2174.9,611.8 2169.9,612.2 2164.9,612.5 2159.9,612.9 2154.9,613.2 2149.9,613.5 2144.9,613.8 2139.9,614.0 2134.9,614.2 2129.9,614.4 2124.9,614.6 2119.9,614.8 2114.9,615.0 2109.9,615.1 2104.9,615.3 2099.9,615.4 2094.8,615.5 2089.8,615.6 2084.8,615.8 2079.8,615.9 2074.8,616.0 2069.7,616.1 2064.7,616.2 2059.7,616.3 2054.7,616.5 2049.6,616.6 2044.6,616.7 2039.6,616.9 2034.6,617.0 2029.5,617.2 2024.5,617.4 2019.5,617.5 2014.5,617.7 2009.5,617.9 2004.4,618.1 1999.4,618.3 1994.4,618.5 1989.4,618.7 1984.3,618.9 1979.3,619.2 1974.3,619.4 1969.3,619.6 1964.3,619.9 1959.2,620.1 1954.2,620.4 1949.2,620.6 1944.2,620.9 1939.2,621.2 1934.2,621.4 1929.1,621.7 1924.1,622.0 1919.1,622.3 1914.1,622.6 1909.1,622.9 1904.1,623.1 1899.0,623.4 1894.0,623.7 1889.0,624.1 1884.0,624.4 1879.0,624.7 1874.0,625.0 1869.0,625.3 1863.9,625.6 1858.9,626.0 1853.9,626.3 1848.9,626.6 1843.9,626.9 1838.9,627.3 1833.9,627.6 1828.9,627.9 1823.9,628.3 1818.8,628.6 1813.8,629.0 1808.8,629.3 1803.8,629.7 1798.8,630.0 1793.8,630.3 1788.8,630.7 1783.8,631.0 1778.8,631.4 1773.8,631.7 1768.8,632.1 1763.8,632.5 1758.8,632.8 1753.8,633.2 1748.8,633.5 1743.7,633.9 1738.7,634.2 1733.7,634.6 1728.7,635.0 1723.7,635.3 1718.7,635.7 1713.7,636.0 1708.7,636.4 1703.7,636.8 1698.7,637.1 1693.7,637.5 1688.7,637.9 1683.7,638.2 1678.7,638.6 1673.7,639.0 1668.7,639.3 1663.7,639.7 1658.7,640.1 1653.7,640.5 1648.7,640.8 1643.7,641.2 1638.7,641.6 1633.7,642.0 1628.7,642.3 1623.7,642.7 1618.7,643.1 1613.7,643.5 1608.8,643.9 1603.8,644.2 1598.8,644.6 1593.8,645.0 1588.8,645.4 1583.8,645.8 1578.8,646.2 1573.8,646.5 1568.8,646.9 1563.8,647.3 1558.8,647.7 1553.8,648.1 1548.8,648.5 1543.8,648.9 1538.8,649.3 1533.8,649.6 1528.8,650.0 1523.8,650.4 1518.8,650.8 1513.8,651.2 1508.8,651.6 1503.8,652.0 1498.9,652.4 1493.9,652.8 1488.9,653.2 1483.9,653.6 1478.9,654.0 1473.9,654.4 1468.9,654.8 1463.9,655.2 1458.9,655.6 1453.9,656.0 1448.9,656.4 1443.9,656.8 1438.9,657.2 1433.9,657.6 1428.9,658.0 1423.9,658.4 1418.9,658.8 1414.0,659.2 1409.0,659.6 1404.0,660.0 1399.0,660.4 1394.0,660.8 1389.0,661.2 1384.0,661.6 1379.0,662.0 1374.0,662.4 1369.0,662.8 1364.0,663.2 1359.0,663.6 1354.0,664.0 1349.0,664.4 1344.0,664.8 1339.0,665.2 1334.0,665.6 1329.0,666.0 1324.0,666.4 1319.1,666.8 1314.1,667.2 1309.1,667.6 1304.1,668.0 1299.1,668.4 1294.1,668.8 1289.1,669.3 1284.1,669.7 1279.1,670.1 1274.1,670.5 1269.1,670.9 1264.1,671.3 1259.1,671.7 1254.1,672.1 1249.1,672.5 1244.1,672.9 1239.1,673.3 1234.1,673.7 1229.1,674.1 1224.1,674.5 1219.1,674.9 1214.1,675.3 1209.1,675.7 1204.1,676.1 1199.1,676.6 1194.1,677.0 1189.1,677.4 1184.1,677.8 1179.1,678.2 1174.1,678.6 1169.1,679.0 1164.1,679.4 1159.1,679.8 1154.1,680.2 1149.1,680.6 1144.1,681.0 1139.0,681.4 1134.0,681.8 1129.0,682.2 1124.0,682.6 1119.0,683.0 1114.0,683.4 1109.0,683.8 1104.0,684.2 1099.0,684.6 1094.0,685.0 1089.0,685.4 1084.0,685.8 1079.0,686.2 1073.9,686.6 1068.9,687.0 1063.9,687.4 1058.9,687.8 1053.9,688.2 1048.9,688.6 1043.9,689.0 1038.9,689.4 1033.9,689.8 1028.8,690.2 1023.8,690.6 1018.8,691.0 1013.8,691.4 1008.8,691.8 1003.8,692.2 998.7,692.5 993.7,692.9 988.7,693.3 983.7,693.7 978.7,694.1 973.6,694.5 968.6,694.9 963.6,695.3 958.6,695.7 953.6,696.1 948.5,696.4 943.5,696.8 938.5,697.2 933.5,697.6 928.4,698.0 923.4,698.4 918.4,698.7 913.4,699.1 908.3,699.5 903.3,699.9 898.3,700.3 893.2,700.6 888.2,701.0 883.2,701.4 878.2,701.8 873.1,702.2 868.1,702.5 863.1,702.9 858.0,703.3 853.0,703.7 848.0,704.0 842.9,704.4 837.9,704.8 832.8,705.1 827.8,705.5 822.8,705.9 817.7,706.3 812.7,706.7 807.7,707.1 802.7,707.5 797.6,708.0 792.6,708.4 787.6,708.9 782.6,709.4 777.6,709.9 772.6,710.4 767.6,710.9 762.7,711.5 757.7,712.1 752.7,712.7 747.8,713.4 742.8,714.1 737.9,714.8 732.9,715.5 728.0,716.3 723.1,717.1 718.2,718.0 713.3,718.9 708.5,719.8 703.6,720.8 698.8,721.8 693.9,722.9 689.1,724.0 684.3,725.1 679.5,726.3 674.7,727.6 670.0,728.9 665.2,730.3 660.5,731.7 655.8,733.1 651.1,734.7 646.5,736.3 641.8,737.9 637.2,739.6 632.6,741.4 628.0,743.3 623.4,745.2 618.8,747.2 614.3,749.2 609.8,751.4 605.3,753.6 600.9,755.8 596.4,758.2 592.0,760.6 587.6,763.1 583.3,765.7 578.9,768.4 574.6,771.1 570.4,773.9 566.1,776.7 561.9,779.6 557.7,782.6 553.6,785.6 549.5,788.6 545.5,791.7 541.4,794.9 537.5,798.1 533.5,801.3 529.7,804.6 525.8,807.9 522.0,811.2 518.3,814.6 514.6,818.1 510.9,821.5 507.3,825.0 503.7,828.5 500.1,832.1 496.6,835.7 493.2,839.3 489.8,843.0 486.4,846.7 483.1,850.4 479.8,854.2 476.5,857.9 473.3,861.8 470.1,865.6 467.0,869.5 463.9,873.4 460.9,877.4 457.9,881.3 454.9,885.3 451.9,889.4 449.0,893.4 446.2,897.5 443.4,901.6 440.6,905.8 437.8,909.9 435.1,914.1 432.4,918.4 429.8,922.6 427.2,926.9 424.6,931.2 422.1,935.5 419.6,939.8 417.1,944.2 414.6,948.5 412.2,952.9 409.8,957.3 407.5,961.8 405.2,966.2 402.9,970.7 400.6,975.2 398.4,979.7 396.2,984.2 394.0,988.8 391.9,993.3 389.8,997.9 387.7,1002.4 385.6,1007.0 383.6,1011.6 381.6,1016.3 379.6,1020.9 377.6,1025.5 375.7,1030.2 373.7,1034.8 371.9,1039.5 370.0,1044.1 368.1,1048.8 366.3,1053.5 364.5,1058.2 362.7,1062.9 360.9,1067.6 359.2,1072.3 357.5,1077.0 355.8,1081.8 354.1,1086.5 352.5,1091.2 350.9,1096.0 349.3,1100.7 347.8,1105.5 346.3,1110.3 344.8,1115.1 343.4,1119.9 342.0,1124.7 340.6,1129.5 339.3,1134.3 338.0,1139.1 336.7,1144.0 335.5,1148.8 334.3,1153.7 333.2,1158.6 332.1,1163.5 331.0,1168.4 330.0,1173.3 329.0,1178.2 328.1,1183.1 327.2,1188.1 326.4,1193.0 325.6,1198.0 324.9,1203.0 326.6,1198.3 328.5,1193.6 330.5,1189.0 332.6,1184.5 334.9,1180.0 337.2,1175.6 339.6,1171.2 342.0,1166.8 344.5,1162.5 347.0,1158.2 349.6,1153.9 352.1,1149.6 354.7,1145.3 357.2,1140.9 359.8,1136.6 362.2,1132.2 364.6,1127.8 367.0,1123.4 369.3,1118.9 371.6,1114.4 373.9,1109.9 376.1,1105.4 378.4,1100.9 380.6,1096.4 382.9,1091.9 385.1,1087.4 387.4,1083.0 389.7,1078.5 392.1,1074.1 394.6,1069.8 397.0,1065.5 399.6,1061.2 402.3,1057.0 405.0,1052.9 407.8,1048.8 410.7,1044.8 413.8,1040.9 416.8,1037.0 420.0,1033.1 423.2,1029.4 426.5,1025.6 429.8,1021.9 433.2,1018.1 436.5,1014.4 439.9,1010.7 443.3,1007.0 446.7,1003.3 450.0,999.5 453.3,995.8 456.7,992.0 460.0,988.2 463.3,984.4 466.6,980.7 470.0,976.9 473.4,973.2 476.8,969.5 480.2,965.9 483.6,962.3 487.2,958.8 490.7,955.3 494.4,952.0 498.1,948.7 501.8,945.4 505.7,942.3 509.5,939.2 513.5,936.2 517.4,933.2 521.4,930.3 525.5,927.4 529.6,924.5 533.7,921.6 537.8,918.8 541.9,915.9 546.0,913.1 550.2,910.2 554.3,907.4 558.5,904.6 562.7,901.8 566.9,899.1 571.2,896.3 575.4,893.6 579.7,890.9 584.0,888.2 588.3,885.6 592.6,883.0 596.9,880.4 601.2,877.8 605.6,875.3 610.0,872.9 614.4,870.4 618.8,868.1 623.3,865.7 627.7,863.4 632.2,861.2 636.7,859.0 641.2,856.9 645.8,854.8 650.3,852.8 654.9,850.8 659.5,848.9 664.1,847.1 668.8,845.3 673.4,843.6 678.1,841.9 682.8,840.3 687.5,838.7 692.2,837.2 697.0,835.8 701.7,834.3 706.5,833.0 711.3,831.7 716.1,830.4 721.0,829.1 725.8,828.0 730.6,826.8 735.5,825.7 740.4,824.6 745.3,823.6 750.1,822.6 755.1,821.6 760.0,820.6 764.9,819.7 769.8,818.8 774.8,818.0 779.7,817.2 784.7,816.4 789.6,815.6 794.6,814.8 799.6,814.1 804.6,813.4 809.5,812.7 814.5,812.0 819.5,811.3 824.5,810.7 829.5,810.0 834.5,809.4 839.5,808.8 844.5,808.1 849.5,807.5 854.5,806.9 859.5,806.3 864.5,805.7 869.5,805.2 874.5,804.6 879.5,804.0 884.5,803.4 889.5,802.9 894.5,802.3 899.5,801.8 904.5,801.2 909.5,800.7 914.5,800.1 919.5,799.6 924.5,799.1 929.5,798.5 934.5,798.0 939.5,797.5 944.5,797.0 949.5,796.5 954.5,796.0 959.5,795.5 964.5,795.0 969.5,794.5 974.5,794.1 979.5,793.6 984.5,793.1 989.5,792.7 994.5,792.2 999.5,791.8 1004.5,791.3 1009.5,790.9 1014.5,790.4 1019.5,790.0 1024.5,789.6 1029.5,789.2 1034.5,788.7 1039.5,788.3 1044.5,787.9 1049.5,787.5 1054.5,787.1 1059.5,786.7 1064.5,786.4 1069.5,786.0 1074.5,785.6 1079.5,785.2 1084.5,784.9 1089.5,784.5 1094.5,784.1 1099.5,783.8 1104.5,783.4 1109.5,783.1 1114.5,782.8 1119.5,782.4 1124.5,782.1 1129.5,781.8 1134.5,781.5 1139.5,781.1 1144.5,780.8 1149.5,780.5 1154.5,780.2 1159.5,779.9 1164.5,779.6 1169.5,779.4 1174.5,779.1 1179.5,778.8 1184.5,778.5 1189.5,778.3 1194.5,778.0 1199.5,777.7 1204.5,777.5 1209.5,777.2 1214.5,777.0 1219.5,776.8 1224.5,776.5 1229.5,776.3 1234.5,776.1 1239.5,775.8 1244.5,775.6 1249.5,775.4 1254.5,775.2 1259.5,775.0 1264.5,774.8 1269.5,774.6 1274.5,774.4 1279.5,774.2 1284.5,774.1 1289.5,773.9 1294.5,773.7 1299.5,773.5 1304.5,773.4 1309.5,773.2 1314.5,773.1 1319.5,772.9 1324.5,772.8 1329.5,772.6 1334.5,772.5 1339.5,772.4 1344.6,772.2 1349.6,772.1 1354.6,772.0 1359.6,771.9 1364.6,771.8 1369.6,771.6 1374.6,771.5 1379.6,771.4 1384.6,771.3 1389.6,771.3 1394.6,771.2 1399.6,771.1 1404.6,771.0 1409.6,770.9 1414.7,770.9 1419.7,770.8 1424.7,770.7 1429.7,770.7 1434.7,770.6 1439.7,770.6 1444.7,770.5 1449.7,770.5 1454.7,770.5 1459.7,770.4 1464.8,770.4 1469.8,770.4 1474.8,770.3 1479.8,770.3 1484.8,770.3 1489.8,770.3 1494.8,770.3 1499.8,770.3 1504.9,770.3 1509.9,770.3 1514.9,770.3 1519.9,770.3 1524.9,770.3 1529.9,770.3 1534.9,770.3 1540.0,770.3 1545.0,770.3 1550.0,770.3 1555.0,770.3 1560.0,770.3 1565.0,770.3 1570.1,770.3 1575.1,770.3 1580.1,770.4 1585.1,770.4 1590.1,770.4 1595.1,770.4 1600.1,770.4 1605.2,770.4 1610.2,770.4 1615.2,770.4 1620.2,770.4 1625.2,770.4 1630.2,770.4 1635.3,770.4 1640.3,770.4 1645.3,770.4 1650.3,770.4 1655.3,770.3 1660.3,770.3 1665.3,770.3 1670.4,770.3 1675.4,770.2 1680.4,770.2 1685.4,770.2 1690.4,770.1 1695.4,770.1 1700.4,770.0 1705.4,770.0 1710.5,769.9 1715.5,769.9 1720.5,769.8 1725.5,769.7 1730.5,769.7 1735.5,769.6 1740.5,769.5 1745.5,769.4 1750.5,769.3 1755.6,769.2 1760.6,769.1 1765.6,768.9 1770.6,768.8 1775.6,768.7 1780.6,768.5 1785.6,768.4 1790.6,768.2 1795.6,768.1 1800.6,767.9 1805.6,767.7 1810.6,767.5 1815.6,767.3 1820.6,767.1 1825.6,766.9 1830.6,766.7 1835.6,766.4 1840.6,766.2 1845.6,765.9 1850.6,765.7 1855.6,765.4 1860.6,765.1 1865.6,764.8 1870.6,764.5 1875.6,764.2 1880.6,763.9 1885.6,763.6 1890.6,763.2 1895.6,762.9 1900.6,762.5 1905.6,762.1 1910.6,761.7 1915.6,761.3 1920.6,760.9 1925.6,760.5 1930.6,760.1 1935.6,759.6 1940.5,759.2 1945.5,758.7 1950.5,758.2 1955.5,757.7 1960.5,757.2 1965.5,756.6 1970.5,756.1 1975.4,755.5 1980.4,755.0 1985.4,754.4 1990.4,753.8 1995.4,753.2 2000.3,752.5 2005.3,751.9 2010.3,751.2 2015.3,750.6 2020.3,749.9 2025.2,749.2 2030.2,748.5 2035.2,747.7 2040.1,747.0 2045.1,746.2 2050.1,745.4 2055.1,744.6 2060.0,743.8 2065.0,743.0 2069.9,742.1 2074.9,741.2 2079.8,740.3 2084.8,739.3 2089.7,738.3 2094.6,737.3 2099.5,736.1 2104.3,734.9 2109.1,733.7 2113.9,732.3 2118.7,730.9 2123.4,729.4 2128.1,727.8 2132.7,726.1 2137.3,724.3 2141.8,722.3 2146.3,720.3 2150.7,718.1 2155.1,715.8 2159.4,713.4 2163.6,710.8 2167.8,708.0 2171.9,705.2 2175.9,702.2 2179.9,699.2 2183.9,696.0 2187.8,692.8 2191.6,689.5 2195.5,686.2 2199.2,682.8 2203.0,679.3 2206.7,675.8 2210.3,672.3 2213.8,668.7 2217.3,665.0 2220.8,661.3 2224.1,657.5 2227.4,653.7 2230.5,649.8 2233.6,645.9 2236.5,641.9 2239.4,637.8 2242.1,633.7 2244.7,629.5 2247.2,625.2 2249.5,620.8 2251.7,616.4 2253.8,611.9 2255.7,607.4 2257.5,602.7 2259.2,598.1 2260.8,593.3 2262.2,588.6 2263.6,583.8 2265.0,578.9 2266.2,574.1 2267.4,569.2 2268.6,564.2 2269.7,559.3 2270.8,554.4 2271.8,549.4 2272.9,544.5 2273.9,539.6 2274.9,534.7 2275.9,529.7 2276.9,524.8 2277.9,519.9 2278.9,515.0 2279.9,510.0 2280.9,505.1 2281.9,500.2 2283.0,495.3 2284.0,490.4 2285.0,485.5 2286.1,480.6 2287.1,475.8 2288.2,470.9 2289.3,466.0 2290.5,461.1 2291.6,456.3 2292.8,451.4 2294.0,446.6 2295.2,441.7 2296.5,436.9 2297.8,432.1 2299.2,427.2 2300.6,422.4 2302.0,417.6 2303.5,412.8 2305.0,408.0"/>
<path stroke="#008000" d="M2307.0,580.1 2302.2,581.3 2297.3,582.6 2292.5,583.9 2287.7,585.2 2282.8,586.4 2277.9,587.7 2273.1,589.0 2268.2,590.2 2263.3,591.4 2258.5,592.7 2253.6,593.9 2248.7,595.1 2243.8,596.2 2238.9,597.4 2234.0,598.5 2229.1,599.6 2224.2,600.6 2219.3,601.7 2214.4,602.7 2209.4,603.6 2204.5,604.5 2199.6,605.4 2194.6,606.2 2189.7,607.0 2184.7,607.7 2179.8,608.4 2174.8,609.0 2169.9,609.6 2164.9,610.1 2159.9,610.6 2154.9,611.1 2150.0,611.5 2145.0,611.9 2140.0,612.2 2135.0,612.5 2130.0,612.8 2125.0,613.0 2120.0,613.2 2115.0,613.4 2110.0,613.6 2105.0,613.7 2100.0,613.8 2095.0,613.9 2090.0,613.9 2085.0,614.0 2080.0,614.0 2075.0,614.0 2069.9,614.0 2064.9,614.0 2059.9,614.0 2054.9,613.9 2049.9,613.9 2044.8,613.8 2039.8,613.8 2034.8,613.7 2029.7,613.7 2024.7,613.6 2019.7,613.5 2014.7,613.5 2009.6,613.4 2004.6,613.4 1999.6,613.3 1994.6,613.3 1989.5,613.3 1984.5,613.3 1979.5,613.3 1974.5,613.3 1969.4,613.3 1964.4,613.3 1959.4,613.3 1954.4,613.3 1949.3,613.4 1944.3,613.4 1939.3,613.5 1934.3,613.5 1929.2,613.6 1924.2,613.7 1919.2,613.8 1914.2,613.9 1909.2,614.0 1904.1,614.1 1899.1,614.2 1894.1,614.3 1889.1,614.4 1884.1,614.6 1879.0,614.7 1874.0,614.9 1869.0,615.1 1864.0,615.2 1859.0,615.4 1854.0,615.6 1848.9,615.8 1843.9,616.0 1838.9,616.2 1833.9,616.4 1828.9,616.7 1823.9,616.9 1818.9,617.1 1813.9,617.4 1808.8,617.6 1803.8,617.9 1798.8,618.2 1793.8,618.5 1788.8,618.8 1783.8,619.1 1778.8,619.4 1773.8,619.7 1768.8,620.0 1763.8,620.3 1758.8,620.7 1753.8,621.0 1748.8,621.4 1743.8,621.7 1738.8,622.1 1733.8,622.5 1728.8,622.8 1723.8,623.2 1718.8,623.6 1713.8,624.0 1708.8,624.4 1703.8,624.9 1698.8,625.3 1693.8,625.7 1688.8,626.2 1683.8,626.6 1678.8,627.1 1673.8,627.5 1668.8,628.0 1663.8,628.5 1658.9,629.0 1653.9,629.5 1648.9,630.0 1643.9,630.5 1638.9,631.0 1633.9,631.5 1628.9,632.0 1623.9,632.5 1619.0,633.1 1614.0,633.6 1609.0,634.1 1604.0,634.7 1599.0,635.2 1594.0,635.8 1589.1,636.3 1584.1,636.9 1579.1,637.4 1574.1,638.0 1569.1,638.6 1564.2,639.1 1559.2,639.7 1554.2,640.3 1549.2,640.8 1544.2,641.4 1539.2,642.0 1534.3,642.6 1529.3,643.2 1524.3,643.7 1519.3,644.3 1514.3,644.9 1509.4,645.5 1504.4,646.1 1499.4,646.7 1494.4,647.3 1489.5,647.9 1484.5,648.4 1479.5,649.0 1474.5,649.6 1469.5,650.2 1464.5,650.8 1459.6,651.4 1454.6,651.9 1449.6,652.5 1444.6,653.1 1439.6,653.7 1434.7,654.3 1429.7,654.8 1424.7,655.4 1419.7,656.0 1414.7,656.5 1409.7,657.1 1404.8,657.7 1399.8,658.2 1394.8,658.8 1389.8,659.3 1384.8,659.8 1379.8,660.4 1374.8,660.9 1369.9,661.5 1364.9,662.0 1359.9,662.5 1354.9,663.0 1349.9,663.5 1344.9,664.0 1339.9,664.5 1334.9,665.0 1329.9,665.5 1324.9,666.0 1319.9,666.5 1314.9,666.9 1309.9,667.4 1304.9,667.9 1299.9,668.3 1294.9,668.7 1289.9,669.2 1284.9,669.6 1279.9,670.0 1274.9,670.4 1269.9,670.8 1264.9,671.2 1259.9,671.6 1254.9,672.0 1249.9,672.4 1244.9,672.8 1239.9,673.2 1234.9,673.5 1229.9,673.9 1224.9,674.3 1219.8,674.6 1214.8,675.0 1209.8,675.3 1204.8,675.7 1199.8,676.0 1194.8,676.3 1189.8,676.7 1184.8,677.0 1179.8,677.3 1174.7,677.7 1169.7,678.0 1164.7,678.3 1159.7,678.6 1154.7,678.9 1149.7,679.3 1144.7,679.6 1139.6,679.9 1134.6,680.2 1129.6,680.5 1124.6,680.8 1119.6,681.1 1114.6,681.5 1109.6,681.8 1104.5,682.1 1099.5,682.4 1094.5,682.7 1089.5,683.0 1084.5,683.3 1079.5,683.7 1074.5,684.0 1069.4,684.3 1064.4,684.6 1059.4,684.9 1054.4,685.3 1049.4,685.6 1044.4,685.9 1039.4,686.3 1034.4,686.6 1029.4,687.0 1024.4,687.3 1019.4,687.7 1014.3,688.0 1009.3,688.4 1004.3,688.7 999.3,689.1 994.3,689.5 989.3,689.9 984.3,690.2 979.3,690.6 974.3,691.0 969.3,691.4 964.3,691.8 959.3,692.3 954.3,692.7 949.3,693.1 944.3,693.5 939.3,694.0 934.4,694.4 929.4,694.9 924.4,695.3 919.4,695.8 914.4,696.3 909.4,696.8 904.4,697.3 899.4,697.8 894.5,698.3 889.5,698.8 884.5,699.3 879.5,699.9 874.5,700.4 869.6,701.0 864.6,701.6 859.6,702.2 854.7,702.7 849.7,703.3 844.7,704.0 839.8,704.6 834.8,705.2 829.8,705.9 824.9,706.5 819.9,707.2 815.0,707.9 810.0,708.6 805.0,709.3 800.1,710.0 795.1,710.7 790.2,711.5 785.3,712.3 780.3,713.0 775.4,713.8 770.4,714.6 765.5,715.4 760.6,716.3 755.6,717.1 750.7,718.0 745.8,718.8 740.8,719.7 735.9,720.6 731.0,721.6 726.1,722.5 721.2,723.5 716.2,724.4 711.3,725.4 706.4,726.4 701.5,727.4 696.6,728.5 691.7,729.5 686.8,730.6 681.9,731.7 677.0,732.9 672.2,734.0 667.3,735.3 662.5,736.5 657.6,737.8 652.8,739.2 648.0,740.6 643.3,742.1 638.5,743.6 633.8,745.2 629.1,746.9 624.5,748.6 619.8,750.5 615.2,752.4 610.7,754.4 606.1,756.5 601.6,758.7 597.2,761.0 592.8,763.3 588.4,765.8 584.1,768.4 579.8,771.0 575.5,773.7 571.3,776.5 567.1,779.3 562.9,782.2 558.8,785.2 554.8,788.2 550.8,791.3 546.8,794.5 542.8,797.7 538.9,800.9 535.1,804.2 531.3,807.6 527.5,810.9 523.8,814.4 520.1,817.8 516.4,821.3 512.9,824.9 509.3,828.5 505.8,832.1 502.3,835.7 498.9,839.4 495.5,843.1 492.2,846.8 488.9,850.6 485.6,854.4 482.4,858.2 479.2,862.1 476.1,866.0 472.9,869.9 469.9,873.8 466.8,877.8 463.8,881.8 460.9,885.8 457.9,889.8 455.1,893.9 452.2,898.0 449.4,902.1 446.6,906.3 443.8,910.4 441.1,914.6 438.4,918.8 435.7,923.0 433.1,927.3 430.5,931.6 427.9,935.8 425.3,940.1 422.8,944.5 420.3,948.8 417.9,953.2 415.4,957.6 413.0,961.9 410.7,966.4 408.3,970.8 406.0,975.2 403.7,979.7 401.5,984.2 399.3,988.7 397.1,993.2 394.9,997.7 392.8,1002.3 390.6,1006.8 388.6,1011.4 386.5,1016.0 384.5,1020.6 382.5,1025.2 380.5,1029.8 378.6,1034.5 376.7,1039.1 374.8,1043.8 372.9,1048.5 371.1,1053.1 369.3,1057.8 367.5,1062.6 365.8,1067.3 364.1,1072.0 362.4,1076.7 360.7,1081.5 359.1,1086.3 357.5,1091.0 355.9,1095.8 354.3,1100.6 352.8,1105.4 351.3,1110.2 349.8,1115.0 348.3,1119.8 346.9,1124.6 345.5,1129.4 344.1,1134.3 342.8,1139.1 341.5,1144.0 340.2,1148.8 338.9,1153.7 337.7,1158.5 336.4,1163.4 335.3,1168.3 334.1,1173.1 332.9,1178.0 331.8,1182.9 330.7,1187.8 329.7,1192.7 328.6,1197.5 327.6,1202.4 326.6,1207.3 325.6,1212.2 324.7,1217.1 323.8,1222.0 325.6,1217.3 327.5,1212.7 329.5,1208.1 331.5,1203.5 333.6,1199.0 335.7,1194.5 337.9,1190.0 340.2,1185.6 342.4,1181.1 344.8,1176.7 347.1,1172.3 349.5,1167.9 351.9,1163.5 354.3,1159.1 356.7,1154.7 359.2,1150.3 361.6,1145.9 364.1,1141.5 366.5,1137.1 369.0,1132.7 371.5,1128.3 374.0,1123.9 376.5,1119.6 379.0,1115.2 381.5,1110.8 384.1,1106.4 386.6,1102.1 389.2,1097.7 391.8,1093.4 394.4,1089.1 397.1,1084.8 399.8,1080.5 402.5,1076.3 405.2,1072.1 408.0,1067.9 410.8,1063.7 413.7,1059.5 416.5,1055.4 419.4,1051.3 422.4,1047.3 425.4,1043.2 428.4,1039.3 431.5,1035.3 434.6,1031.4 437.7,1027.5 440.9,1023.6 444.1,1019.8 447.4,1016.0 450.7,1012.3 454.0,1008.5 457.4,1004.8 460.7,1001.2 464.2,997.6 467.6,994.0 471.1,990.4 474.7,986.9 478.2,983.3 481.8,979.9 485.4,976.4 489.1,973.0 492.8,969.6 496.5,966.3 500.2,963.0 504.0,959.7 507.8,956.4 511.6,953.2 515.5,950.0 519.3,946.8 523.2,943.7 527.2,940.6 531.1,937.5 535.1,934.4 539.1,931.4 543.1,928.4 547.2,925.5 551.3,922.5 555.4,919.6 559.5,916.7 563.6,913.9 567.8,911.1 572.0,908.3 576.2,905.5 580.4,902.8 584.7,900.1 589.0,897.4 593.3,894.8 597.6,892.2 601.9,889.7 606.3,887.1 610.6,884.7 615.0,882.2 619.4,879.8 623.9,877.4 628.3,875.1 632.8,872.8 637.3,870.6 641.8,868.4 646.3,866.3 650.9,864.1 655.4,862.1 660.0,860.1 664.6,858.1 669.2,856.2 673.8,854.3 678.5,852.5 683.1,850.7 687.8,849.0 692.5,847.3 697.2,845.7 702.0,844.1 706.7,842.6 711.5,841.1 716.3,839.7 721.0,838.3 725.9,837.0 730.7,835.7 735.5,834.4 740.4,833.2 745.2,832.1 750.1,831.0 755.0,829.9 759.9,828.8 764.8,827.8 769.7,826.8 774.6,825.9 779.5,824.9 784.4,824.0 789.4,823.2 794.3,822.3 799.3,821.5 804.2,820.7 809.2,819.9 814.2,819.1 819.2,818.4 824.1,817.6 829.1,816.9 834.1,816.2 839.1,815.5 844.1,814.8 849.1,814.1 854.0,813.4 859.0,812.7 864.0,812.1 869.0,811.4 874.0,810.7 879.0,810.1 884.0,809.4 889.0,808.8 894.0,808.2 898.9,807.5 903.9,806.9 908.9,806.3 913.9,805.7 918.9,805.1 923.9,804.5 928.9,803.9 933.9,803.3 938.9,802.7 943.9,802.1 948.9,801.5 953.9,801.0 958.8,800.4 963.8,799.8 968.8,799.3 973.8,798.7 978.8,798.2 983.8,797.7 988.8,797.1 993.8,796.6 998.8,796.1 1003.8,795.6 1008.8,795.0 1013.8,794.5 1018.8,794.0 1023.8,793.5 1028.8,793.1 1033.8,792.6 1038.8,792.1 1043.8,791.6 1048.8,791.2 1053.8,790.7 1058.8,790.2 1063.8,789.8 1068.8,789.3 1073.8,788.9 1078.8,788.5 1083.8,788.0 1088.8,787.6 1093.8,787.2 1098.8,786.8 1103.8,786.4 1108.8,786.0 1113.8,785.6 1118.8,785.2 1123.8,784.8 1128.8,784.4 1133.8,784.0 1138.8,783.7 1143.8,783.3 1148.8,782.9 1153.8,782.6 1158.8,782.2 1163.8,781.9 1168.8,781.5 1173.8,781.2 1178.8,780.9 1183.8,780.6 1188.8,780.2 1193.8,779.9 1198.8,779.6 1203.8,779.3 1208.8,779.0 1213.8,778.7 1218.9,778.4 1223.9,778.2 1228.9,777.9 1233.9,777.6 1238.9,777.4 1243.9,777.1 1248.9,776.8 1253.9,776.6 1258.9,776.3 1263.9,776.1 1268.9,775.9 1273.9,775.6 1279.0,775.4 1284.0,775.2 1289.0,775.0 1294.0,774.8 1299.0,774.6 1304.0,774.4 1309.0,774.2 1314.0,774.0 1319.0,773.8 1324.0,773.6 1329.1,773.5 1334.1,773.3 1339.1,773.1 1344.1,773.0 1349.1,772.8 1354.1,772.7 1359.1,772.5 1364.2,772.4 1369.2,772.3 1374.2,772.2 1379.2,772.0 1384.2,771.9 1389.2,771.8 1394.2,771.7 1399.3,771.6 1404.3,771.5 1409.3,771.4 1414.3,771.3 1419.3,771.3 1424.3,771.2 1429.4,771.1 1434.4,771.0 1439.4,771.0 1444.4,770.9 1449.4,770.9 1454.4,770.8 1459.5,770.8 1464.5,770.8 1469.5,770.7 1474.5,770.7 1479.5,770.7 1484.6,770.7 1489.6,770.7 1494.6,770.6 1499.6,770.6 1504.6,770.6 1509.7,770.6 1514.7,770.6 1519.7,770.6 1524.7,770.7 1529.7,770.7 1534.8,770.7 1539.8,770.7 1544.8,770.7 1549.8,770.7 1554.8,770.7 1559.9,770.8 1564.9,770.8 1569.9,770.8 1574.9,770.8 1579.9,770.9 1585.0,770.9 1590.0,770.9 1595.0,770.9 1600.0,771.0 1605.0,771.0 1610.1,771.0 1615.1,771.0 1620.1,771.1 1625.1,771.1 1630.2,771.1 1635.2,771.1 1640.2,771.1 1645.2,771.2 1650.2,771.2 1655.3,771.2 1660.3,771.2 1665.3,771.2 1670.3,771.2 1675.3,771.2 1680.4,771.2 1685.4,771.2 1690.4,771.2 1695.4,771.2 1700.4,771.2 1705.4,771.2 1710.5,771.1 1715.5,771.1 1720.5,771.1 1725.5,771.0 1730.5,771.0 1735.6,771.0 1740.6,770.9 1745.6,770.9 1750.6,770.8 1755.6,770.7 1760.6,770.7 1765.7,770.6 1770.7,770.5 1775.7,770.4 1780.7,770.3 1785.7,770.2 1790.7,770.1 1795.7,770.0 1800.7,769.9 1805.8,769.7 1810.8,769.6 1815.8,769.4 1820.8,769.3 1825.8,769.1 1830.8,768.9 1835.8,768.8 1840.8,768.6 1845.8,768.4 1850.9,768.2 1855.9,768.0 1860.9,767.7 1865.9,767.5 1870.9,767.2 1875.9,767.0 1880.9,766.7 1885.9,766.5 1890.9,766.2 1895.9,765.9 1900.9,765.6 1905.9,765.3 1910.9,764.9 1915.9,764.6 1920.9,764.2 1925.9,763.9 1930.9,763.5 1935.9,763.1 1940.9,762.7 1945.9,762.3 1950.9,761.9 1955.9,761.4 1960.9,761.0 1965.9,760.5 1970.9,760.0 1975.9,759.6 1980.9,759.1 1985.9,758.5 1990.9,758.0 1995.8,757.5 2000.8,756.9 2005.8,756.3 2010.8,755.7 2015.8,755.1 2020.8,754.5 2025.8,753.9 2030.8,753.3 2035.7,752.6 2040.7,751.9 2045.7,751.2 2050.7,750.5 2055.7,749.8 2060.6,749.0 2065.6,748.2 2070.5,747.3 2075.5,746.4 2080.4,745.5 2085.3,744.5 2090.2,743.4 2095.1,742.2 2099.9,741.0 2104.7,739.7 2109.5,738.3 2114.3,736.9 2119.1,735.3 2123.8,733.7 2128.5,731.9 2133.1,730.1 2137.7,728.1 2142.3,726.1 2146.8,723.9 2151.3,721.7 2155.8,719.4 2160.2,717.0 2164.5,714.5 2168.8,711.9 2173.1,709.3 2177.3,706.5 2181.4,703.6 2185.5,700.7 2189.5,697.6 2193.4,694.5 2197.3,691.3 2201.1,688.0 2204.9,684.6 2208.5,681.2 2212.1,677.6 2215.6,674.0 2219.0,670.3 2222.3,666.5 2225.5,662.7 2228.6,658.7 2231.6,654.7 2234.6,650.7 2237.4,646.6 2240.1,642.4 2242.7,638.1 2245.2,633.8 2247.7,629.5 2250.0,625.1 2252.2,620.6 2254.3,616.1 2256.3,611.5 2258.2,606.9 2260.0,602.2 2261.7,597.5 2263.3,592.8 2264.8,588.0 2266.3,583.3 2267.7,578.4 2269.0,573.6 2270.3,568.7 2271.5,563.8 2272.6,558.9 2273.8,554.0 2274.8,549.1 2275.8,544.2 2276.8,539.2 2277.8,534.3 2278.7,529.3 2279.6,524.4 2280.4,519.4 2281.3,514.5 2282.1,509.5 2282.8,504.6 2283.6,499.6 2284.3,494.6 2285.0,489.7 2285.7,484.7 2286.3,479.7 2287.0,474.7 2287.6,469.7 2288.2,464.8 2288.8,459.8 2289.3,454.8 2289.9,449.8 2290.4,444.8 2291.0,439.8 2291.5,434.8 2292.0,429.8 2292.5,424.8 2293.0,419.8 2293.5,414.8 2294.0,409.8 2294.5,404.9 2295.0,399.9 2295.5,394.9 2295.9,389.9 2296.4,384.9 2296.9,379.9 2297.4,374.9 2297.9,369.9 2298.4,364.9 2298.9,360.0 2299.5,355.0 2300.0,350.0"/>
<path stroke="#000080" d="M2307.0,566.3 2302.4,568.6 2297.8,570.8 2293.1,573.0 2288.5,575.0 2283.8,577.0 2279.1,578.9 2274.4,580.7 2269.7,582.5 2264.9,584.2 2260.2,585.8 2255.4,587.3 2250.6,588.7 2245.9,590.1 2241.1,591.5 2236.2,592.7 2231.4,593.9 2226.6,595.0 2221.7,596.1 2216.9,597.1 2212.0,598.1 2207.1,599.0 2202.2,599.8 2197.3,600.6 2192.4,601.4 2187.5,602.1 2182.6,602.7 2177.7,603.3 2172.7,603.8 2167.8,604.4 2162.8,604.8 2157.8,605.3 2152.9,605.6 2147.9,606.0 2142.9,606.3 2137.9,606.6 2132.9,606.9 2127.9,607.1 2122.9,607.3 2117.9,607.4 2112.8,607.6 2107.8,607.7 2102.8,607.8 2097.7,607.8 2092.7,607.9 2087.7,607.9 2082.6,607.9 2077.6,607.9 2072.5,607.9 2067.5,607.9 2062.4,607.9 2057.4,607.8 2052.3,607.8 2047.2,607.7 2042.2,607.6 2037.1,607.6 2032.1,607.5 2027.0,607.4 2022.0,607.4 2016.9,607.3 2011.8,607.3 2006.8,607.2 2001.7,607.2 1996.7,607.2 1991.6,607.1 1986.6,607.1 1981.5,607.1 1976.5,607.1 1971.5,607.2 1966.4,607.2 1961.4,607.2 1956.3,607.3 1951.3,607.3 1946.3,607.4 1941.2,607.5 1936.2,607.6 1931.2,607.7 1926.2,607.8 1921.1,607.9 1916.1,608.0 1911.1,608.1 1906.1,608.3 1901.0,608.4 1896.0,608.6 1891.0,608.8 1886.0,608.9 1881.0,609.1 1876.0,609.3 1871.0,609.5 1866.0,609.7 1860.9,609.9 1855.9,610.2 1850.9,610.4 1845.9,610.6 1840.9,610.9 1835.9,611.1 1830.9,611.4 1825.9,611.7 1820.9,611.9 1815.9,612.2 1810.9,612.5 1805.9,612.8 1800.9,613.1 1795.9,613.4 1790.9,613.7 1785.9,614.1 1780.9,614.4 1775.9,614.7 1770.9,615.1 1766.0,615.4 1761.0,615.8 1756.0,616.1 1751.0,616.5 1746.0,616.9 1741.0,617.3 1736.0,617.7 1731.0,618.0 1726.0,618.4 1721.0,618.8 1716.0,619.2 1711.1,619.7 1706.1,620.1 1701.1,620.5 1696.1,620.9 1691.1,621.4 1686.1,621.8 1681.1,622.2 1676.1,622.7 1671.2,623.1 1666.2,623.6 1661.2,624.1 1656.2,624.5 1651.2,625.0 1646.2,625.5 1641.2,625.9 1636.2,626.4 1631.2,626.9 1626.2,627.4 1621.3,627.9 1616.3,628.4 1611.3,628.9 1606.3,629.4 1601.3,629.9 1596.3,630.4 1591.3,630.9 1586.3,631.4 1581.3,631.9 1576.3,632.4 1571.3,633.0 1566.3,633.5 1561.3,634.0 1556.3,634.6 1551.3,635.1 1546.3,635.6 1541.3,636.2 1536.3,636.7 1531.3,637.2 1526.3,637.8 1521.3,638.3 1516.3,638.9 1511.3,639.4 1506.3,640.0 1501.3,640.5 1496.3,641.1 1491.3,641.6 1486.3,642.2 1481.3,642.8 1476.3,643.3 1471.3,643.9 1466.3,644.4 1461.3,645.0 1456.2,645.6 1451.2,646.1 1446.2,646.7 1441.2,647.3 1436.2,647.8 1431.2,648.4 1426.2,649.0 1421.2,649.5 1416.2,650.1 1411.2,650.7 1406.2,651.2 1401.2,651.8 1396.2,652.4 1391.2,652.9 1386.2,653.5 1381.2,654.1 1376.2,654.6 1371.2,655.2 1366.2,655.8 1361.2,656.3 1356.2,656.9 1351.2,657.5 1346.1,658.0 1341.1,658.6 1336.1,659.2 1331.1,659.7 1326.1,660.3 1321.1,660.8 1316.1,661.4 1311.1,662.0 1306.2,662.5 1301.2,663.1 1296.2,663.6 1291.2,664.2 1286.2,664.7 1281.2,665.3 1276.2,665.8 1271.2,666.4 1266.2,666.9 1261.2,667.4 1256.2,668.0 1251.2,668.5 1246.2,669.0 1241.2,669.6 1236.3,670.1 1231.3,670.6 1226.3,671.1 1221.3,671.7 1216.3,672.2 1211.3,672.7 1206.4,673.2 1201.4,673.7 1196.4,674.2 1191.4,674.7 1186.4,675.2 1181.5,675.7 1176.5,676.2 1171.5,676.7 1166.6,677.2 1161.6,677.7 1156.6,678.1 1151.6,678.6 1146.7,679.1 1141.7,679.5 1136.8,680.0 1131.8,680.5 1126.8,680.9 1121.9,681.4 1116.9,681.8 1111.9,682.3 1107.0,682.7 1102.0,683.1 1097.1,683.6 1092.1,684.0 1087.2,684.4 1082.2,684.9 1077.2,685.3 1072.3,685.7 1067.3,686.1 1062.4,686.6 1057.4,687.0 1052.4,687.4 1047.5,687.8 1042.5,688.2 1037.5,688.6 1032.6,689.0 1027.6,689.4 1022.6,689.8 1017.7,690.2 1012.7,690.7 1007.7,691.1 1002.7,691.5 997.8,691.9 992.8,692.3 987.8,692.7 982.8,693.1 977.8,693.5 972.8,693.9 967.9,694.3 962.9,694.7 957.9,695.1 952.9,695.5 947.9,695.9 942.8,696.3 937.8,696.7 932.8,697.1 927.8,697.5 922.8,697.9 917.7,698.3 912.7,698.7 907.7,699.1 902.6,699.5 897.6,699.9 892.5,700.4 887.5,700.8 882.4,701.2 877.4,701.6 872.3,702.0 867.2,702.5 862.2,702.9 857.1,703.3 852.0,703.8 846.9,704.2 841.8,704.6 836.7,705.1 831.6,705.5 826.5,706.0 821.4,706.5 816.2,706.9 811.1,707.4 806.0,707.9 800.9,708.5 795.8,709.0 790.7,709.6 785.6,710.2 780.5,710.8 775.4,711.4 770.4,712.1 765.3,712.7 760.2,713.5 755.2,714.2 750.1,715.0 745.1,715.8 740.1,716.6 735.1,717.5 730.1,718.4 725.1,719.4 720.2,720.4 715.2,721.4 710.3,722.5 705.4,723.6 700.5,724.8 695.7,726.0 690.8,727.3 686.0,728.7 681.2,730.0 676.5,731.5 671.7,733.0 667.0,734.5 662.3,736.1 657.6,737.8 653.0,739.6 648.4,741.4 643.8,743.2 639.3,745.2 634.7,747.2 630.3,749.2 625.8,751.3 621.4,753.5 617.0,755.8 612.6,758.1 608.3,760.5 604.0,762.9 599.7,765.4 595.5,767.9 591.3,770.5 587.1,773.2 583.0,775.9 578.9,778.6 574.8,781.5 570.7,784.3 566.7,787.3 562.8,790.2 558.8,793.3 554.9,796.3 551.0,799.4 547.2,802.6 543.4,805.8 539.6,809.1 535.9,812.4 532.2,815.8 528.5,819.2 524.9,822.6 521.2,826.1 517.7,829.6 514.2,833.2 510.7,836.8 507.2,840.4 503.8,844.1 500.4,847.8 497.0,851.6 493.7,855.4 490.4,859.2 487.2,863.1 484.0,867.0 480.8,870.9 477.7,874.9 474.6,878.8 471.5,882.9 468.5,886.9 465.5,891.0 462.5,895.1 459.6,899.3 456.8,903.4 453.9,907.6 451.1,911.8 448.4,916.1 445.6,920.3 443.0,924.6 440.3,928.9 437.7,933.3 435.1,937.6 432.6,942.0 430.1,946.4 427.7,950.8 425.3,955.2 422.9,959.6 420.6,964.1 418.3,968.6 416.0,973.1 413.8,977.6 411.6,982.1 409.5,986.6 407.3,991.2 405.3,995.7 403.2,1000.3 401.2,1004.9 399.2,1009.5 397.2,1014.1 395.3,1018.8 393.4,1023.4 391.5,1028.0 389.7,1032.7 387.9,1037.4 386.1,1042.1 384.3,1046.8 382.6,1051.5 380.9,1056.2 379.2,1060.9 377.5,1065.6 375.9,1070.4 374.2,1075.1 372.6,1079.9 371.0,1084.6 369.5,1089.4 367.9,1094.2 366.4,1099.0 364.9,1103.8 363.4,1108.5 361.9,1113.3 360.4,1118.2 359.0,1123.0 357.6,1127.8 356.1,1132.6 354.7,1137.4 353.3,1142.2 351.9,1147.0 350.5,1151.9 349.2,1156.7 347.8,1161.5 346.5,1166.4 345.1,1171.2 343.8,1176.0 342.4,1180.9 341.1,1185.7 339.8,1190.5 338.5,1195.3 337.2,1200.2 335.9,1205.0 334.6,1209.8 333.4,1214.7 332.2,1219.5 331.0,1224.4 329.9,1229.2 328.9,1234.1 327.9,1239.0 327.0,1243.9 326.2,1248.8 325.5,1253.8 324.9,1258.7 324.4,1263.7 324.0,1268.7 323.7,1273.7 326.3,1269.4 328.7,1265.0 330.9,1260.6 333.1,1256.1 335.2,1251.6 337.2,1247.1 339.2,1242.5 341.2,1238.0 343.1,1233.4 345.1,1228.8 347.1,1224.2 349.1,1219.6 351.1,1215.0 353.1,1210.4 355.2,1205.8 357.2,1201.2 359.3,1196.6 361.4,1192.0 363.5,1187.5 365.7,1182.9 367.8,1178.4 370.0,1173.8 372.2,1169.3 374.4,1164.8 376.7,1160.3 379.0,1155.8 381.3,1151.4 383.6,1146.9 386.0,1142.5 388.4,1138.1 390.8,1133.7 393.2,1129.3 395.7,1125.0 398.1,1120.6 400.7,1116.3 403.2,1112.0 405.8,1107.7 408.3,1103.5 411.0,1099.2 413.6,1095.0 416.3,1090.8 419.0,1086.6 421.7,1082.4 424.5,1078.2 427.2,1074.1 430.0,1070.0 432.9,1065.9 435.8,1061.8 438.6,1057.8 441.6,1053.7 444.5,1049.7 447.5,1045.7 450.5,1041.7 453.6,1037.8 456.6,1033.8 459.7,1029.9 462.9,1026.0 466.0,1022.2 469.2,1018.3 472.4,1014.5 475.7,1010.7 479.0,1006.9 482.3,1003.2 485.6,999.4 489.0,995.7 492.4,992.0 495.9,988.4 499.4,984.7 502.9,981.1 506.4,977.5 510.0,974.0 513.6,970.4 517.2,966.9 520.9,963.4 524.6,959.9 528.3,956.5 532.1,953.1 535.9,949.7 539.7,946.4 543.6,943.1 547.4,939.8 551.4,936.6 555.3,933.4 559.3,930.3 563.3,927.2 567.3,924.1 571.4,921.1 575.5,918.1 579.6,915.2 583.7,912.3 587.9,909.5 592.1,906.7 596.3,904.0 600.5,901.3 604.8,898.7 609.1,896.1 613.4,893.6 617.8,891.2 622.1,888.8 626.5,886.4 630.9,884.1 635.4,881.9 639.8,879.7 644.3,877.5 648.8,875.4 653.3,873.4 657.9,871.3 662.4,869.4 667.0,867.5 671.6,865.6 676.2,863.7 680.9,861.9 685.5,860.2 690.2,858.5 694.9,856.8 699.6,855.2 704.3,853.6 709.0,852.0 713.7,850.5 718.5,849.0 723.3,847.5 728.1,846.1 732.9,844.7 737.7,843.3 742.5,842.0 747.3,840.7 752.2,839.4 757.0,838.2 761.9,837.0 766.7,835.8 771.6,834.6 776.5,833.5 781.4,832.4 786.3,831.3 791.2,830.2 796.2,829.1 801.1,828.1 806.0,827.1 810.9,826.1 815.9,825.1 820.8,824.2 825.8,823.2 830.7,822.3 835.7,821.4 840.6,820.5 845.6,819.6 850.6,818.7 855.5,817.9 860.5,817.0 865.4,816.2 870.4,815.3 875.4,814.5 880.3,813.7 885.3,812.9 890.3,812.1 895.2,811.3 900.2,810.6 905.2,809.8 910.1,809.1 915.1,808.3 920.1,807.6 925.1,806.9 930.0,806.2 935.0,805.5 940.0,804.8 945.0,804.1 950.0,803.4 954.9,802.8 959.9,802.1 964.9,801.5 969.9,800.9 974.9,800.2 979.8,799.6 984.8,799.0 989.8,798.4 994.8,797.8 999.8,797.3 1004.8,796.7 1009.8,796.1 1014.7,795.6 1019.7,795.0 1024.7,794.5 1029.7,794.0 1034.7,793.5 1039.7,793.0 1044.7,792.5 1049.7,792.0 1054.7,791.5 1059.7,791.0 1064.7,790.5 1069.7,790.1 1074.7,789.6 1079.7,789.2 1084.7,788.7 1089.7,788.3 1094.7,787.9 1099.7,787.5 1104.7,787.1 1109.7,786.7 1114.7,786.3 1119.7,785.9 1124.7,785.5 1129.7,785.1 1134.7,784.8 1139.7,784.4 1144.7,784.1 1149.7,783.7 1154.7,783.4 1159.7,783.1 1164.7,782.7 1169.7,782.4 1174.7,782.1 1179.7,781.8 1184.7,781.5 1189.8,781.2 1194.8,780.9 1199.8,780.7 1204.8,780.4 1209.8,780.1 1214.8,779.9 1219.8,779.6 1224.8,779.3 1229.8,779.1 1234.8,778.9 1239.9,778.6 1244.9,778.4 1249.9,778.2 1254.9,778.0 1259.9,777.7 1264.9,777.5 1269.9,777.3 1274.9,777.1 1280.0,776.9 1285.0,776.7 1290.0,776.6 1295.0,776.4 1300.0,776.2 1305.0,776.0 1310.0,775.9 1315.1,775.7 1320.1,775.6 1325.1,775.4 1330.1,775.3 1335.1,775.1 1340.1,775.0 1345.2,774.8 1350.2,774.7 1355.2,774.6 1360.2,774.4 1365.2,774.3 1370.2,774.2 1375.3,774.1 1380.3,774.0 1385.3,773.9 1390.3,773.8 1395.3,773.7 1400.3,773.6 1405.4,773.5 1410.4,773.4 1415.4,773.3 1420.4,773.2 1425.4,773.1 1430.4,773.0 1435.5,772.9 1440.5,772.9 1445.5,772.8 1450.5,772.7 1455.5,772.7 1460.5,772.6 1465.5,772.5 1470.6,772.5 1475.6,772.4 1480.6,772.3 1485.6,772.3 1490.6,772.2 1495.6,772.2 1500.6,772.1 1505.7,772.1 1510.7,772.0 1515.7,772.0 1520.7,771.9 1525.7,771.9 1530.7,771.8 1535.7,771.8 1540.8,771.8 1545.8,771.7 1550.8,771.7 1555.8,771.6 1560.8,771.6 1565.8,771.6 1570.8,771.5 1575.8,771.5 1580.8,771.5 1585.8,771.4 1590.9,771.4 1595.9,771.4 1600.9,771.3 1605.9,771.3 1610.9,771.3 1615.9,771.2 1620.9,771.2 1625.9,771.2 1630.9,771.1 1635.9,771.1 1640.9,771.1 1645.9,771.0 1650.9,771.0 1655.9,770.9 1660.9,770.9 1665.9,770.9 1670.9,770.8 1676.0,770.8 1681.0,770.7 1686.0,770.7 1691.0,770.6 1696.0,770.6 1701.0,770.5 1706.0,770.5 1711.0,770.4 1716.0,770.4 1721.0,770.3 1726.0,770.2 1731.0,770.2 1736.0,770.1 1741.0,770.0 1746.0,769.9 1751.0,769.9 1756.0,769.8 1761.0,769.7 1766.0,769.6 1771.0,769.5 1776.0,769.4 1781.0,769.3 1786.1,769.2 1791.1,769.1 1796.1,769.0 1801.1,768.9 1806.1,768.7 1811.1,768.6 1816.1,768.5 1821.1,768.3 1826.1,768.2 1831.1,768.0 1836.1,767.9 1841.2,767.7 1846.2,767.6 1851.2,767.4 1856.2,767.2 1861.2,767.0 1866.2,766.8 1871.2,766.7 1876.3,766.5 1881.3,766.2 1886.3,766.0 1891.3,765.8 1896.3,765.6 1901.4,765.4 1906.4,765.1 1911.4,764.9 1916.4,764.6 1921.4,764.4 1926.5,764.1 1931.5,763.8 1936.5,763.5 1941.6,763.2 1946.6,762.9 1951.6,762.6 1956.6,762.3 1961.7,762.0 1966.7,761.7 1971.7,761.3 1976.8,761.0 1981.8,760.6 1986.9,760.3 1991.9,759.9 1996.9,759.5 2002.0,759.1 2007.0,758.7 2012.1,758.3 2017.1,757.9 2022.1,757.4 2027.2,756.9 2032.2,756.4 2037.2,755.9 2042.2,755.3 2047.2,754.7 2052.2,754.1 2057.2,753.4 2062.2,752.7 2067.1,751.9 2072.1,751.1 2077.0,750.3 2081.9,749.3 2086.8,748.3 2091.6,747.3 2096.5,746.2 2101.3,745.0 2106.1,743.8 2110.8,742.4 2115.6,741.0 2120.3,739.5 2125.0,738.0 2129.6,736.3 2134.2,734.6 2138.8,732.7 2143.4,730.8 2147.9,728.7 2152.3,726.6 2156.8,724.4 2161.2,722.0 2165.5,719.5 2169.8,717.0 2174.1,714.3 2178.3,711.5 2182.5,708.7 2186.6,705.7 2190.6,702.6 2194.6,699.5 2198.5,696.2 2202.3,692.9 2206.1,689.5 2209.8,686.0 2213.4,682.5 2216.9,678.8 2220.4,675.1 2223.7,671.3 2227.0,667.4 2230.2,663.5 2233.3,659.5 2236.2,655.5 2239.1,651.4 2241.9,647.2 2244.6,643.0 2247.1,638.7 2249.6,634.4 2251.9,630.0 2254.2,625.6 2256.3,621.1 2258.4,616.6 2260.4,612.1 2262.3,607.5 2264.1,602.9 2265.8,598.2 2267.5,593.6 2269.0,588.8 2270.5,584.1 2272.0,579.3 2273.4,574.5 2274.7,569.7 2275.9,564.8 2277.2,560.0 2278.3,555.1 2279.4,550.2 2280.5,545.3 2281.5,540.4 2282.5,535.4 2283.4,530.5 2284.3,525.5 2285.2,520.6 2286.1,515.6 2286.9,510.7 2287.7,505.7 2288.5,500.8 2289.3,495.8 2290.0,490.8 2290.7,485.9 2291.4,480.9 2292.1,475.9 2292.7,470.9 2293.3,466.0 2293.9,461.0 2294.5,456.0 2295.1,451.0 2295.6,446.1 2296.1,441.1 2296.6,436.1 2297.1,431.1 2297.6,426.1 2298.0,421.1 2298.5,416.1 2298.9,411.1 2299.3,406.1 2299.7,401.1 2300.0,396.1 2300.4,391.1 2300.7,386.1 2301.0,381.1 2301.3,376.1 2301.6,371.1 2301.9,366.1 2302.2,361.1 2302.4,356.1 2302.6,351.1 2302.9,346.1 2303.1,341.1 2303.3,336.1 2303.5,331.1 2303.7,326.0 2303.8,321.0 2304.0,316.0"/>
<path stroke="#8000ff" d="M2307.0,448.8 2303.0,451.9 2299.0,455.0 2295.0,458.1 2290.9,461.1 2286.8,464.0 2282.7,466.8 2278.5,469.6 2274.3,472.4 2270.1,475.0 2265.8,477.6 2261.5,480.2 2257.2,482.7 2252.8,485.2 2248.4,487.5 2244.0,489.9 2239.6,492.2 2235.1,494.4 2230.6,496.6 2226.1,498.8 2221.5,500.9 2217.0,502.9 2212.4,504.9 2207.8,506.9 2203.1,508.9 2198.5,510.7 2193.8,512.6 2189.2,514.4 2184.5,516.2 2179.8,517.9 2175.1,519.6 2170.3,521.3 2165.6,523.0 2160.8,524.6 2156.1,526.2 2151.3,527.7 2146.5,529.3 2141.7,530.8 2136.9,532.3 2132.1,533.7 2127.3,535.1 2122.5,536.6 2117.7,538.0 2112.9,539.3 2108.0,540.7 2103.2,542.0 2098.4,543.3 2093.5,544.6 2088.7,545.8 2083.8,547.1 2079.0,548.3 2074.1,549.5 2069.2,550.7 2064.4,551.9 2059.5,553.0 2054.6,554.2 2049.7,555.3 2044.8,556.4 2039.9,557.5 2035.0,558.5 2030.1,559.6 2025.2,560.6 2020.3,561.7 2015.4,562.7 2010.5,563.7 2005.6,564.7 2000.7,565.7 1995.8,566.6 1990.8,567.6 1985.9,568.5 1981.0,569.5 1976.1,570.4 1971.1,571.3 1966.2,572.2 1961.2,573.1 1956.3,574.0 1951.4,574.9 1946.4,575.7 1941.5,576.6 1936.5,577.4 1931.6,578.3 1926.6,579.1 1921.7,580.0 1916.7,580.8 1911.8,581.6 1906.8,582.5 1901.9,583.3 1896.9,584.1 1891.9,584.9 1887.0,585.7 1882.0,586.6 1877.1,587.4 1872.1,588.2 1867.1,589.0 1862.2,589.8 1857.2,590.6 1852.3,591.4 1847.3,592.2 1842.3,593.0 1837.4,593.8 1832.4,594.7 1827.5,595.5 1822.5,596.3 1817.6,597.1 1812.6,597.9 1807.6,598.8 1802.7,599.6 1797.7,600.5 1792.8,601.3 1787.8,602.2 1782.9,603.0 1778.0,603.9 1773.0,604.7 1768.1,605.6 1763.1,606.5 1758.2,607.4 1753.2,608.2 1748.3,609.1 1743.3,610.0 1738.4,610.9 1733.5,611.8 1728.5,612.6 1723.6,613.5 1718.7,614.4 1713.7,615.3 1708.8,616.2 1703.8,617.1 1698.9,618.0 1694.0,618.9 1689.0,619.7 1684.1,620.6 1679.2,621.5 1674.2,622.4 1669.3,623.3 1664.4,624.2 1659.4,625.0 1654.5,625.9 1649.5,626.8 1644.6,627.6 1639.7,628.5 1634.7,629.4 1629.8,630.2 1624.9,631.1 1619.9,631.9 1615.0,632.8 1610.0,633.6 1605.1,634.4 1600.1,635.2 1595.2,636.1 1590.3,636.9 1585.3,637.7 1580.4,638.5 1575.4,639.3 1570.5,640.0 1565.5,640.8 1560.6,641.6 1555.6,642.3 1550.7,643.1 1545.7,643.8 1540.8,644.6 1535.8,645.3 1530.8,646.0 1525.9,646.7 1520.9,647.4 1516.0,648.1 1511.0,648.8 1506.0,649.4 1501.1,650.1 1496.1,650.7 1491.1,651.3 1486.1,651.9 1481.2,652.5 1476.2,653.1 1471.2,653.7 1466.2,654.3 1461.2,654.8 1456.3,655.4 1451.3,655.9 1446.3,656.4 1441.3,656.9 1436.3,657.4 1431.3,657.9 1426.3,658.4 1421.3,658.9 1416.3,659.3 1411.3,659.8 1406.3,660.2 1401.3,660.7 1396.3,661.1 1391.3,661.6 1386.3,662.0 1381.3,662.4 1376.3,662.8 1371.3,663.3 1366.3,663.7 1361.3,664.1 1356.3,664.5 1351.3,664.9 1346.3,665.3 1341.3,665.7 1336.3,666.1 1331.3,666.5 1326.3,666.9 1321.2,667.3 1316.2,667.7 1311.2,668.1 1306.2,668.6 1301.2,669.0 1296.2,669.4 1291.2,669.8 1286.2,670.2 1281.2,670.7 1276.2,671.1 1271.2,671.5 1266.2,672.0 1261.2,672.4 1256.2,672.9 1251.2,673.3 1246.2,673.8 1241.2,674.3 1236.2,674.8 1231.2,675.2 1226.2,675.7 1221.2,676.2 1216.2,676.8 1211.3,677.3 1206.3,677.8 1201.3,678.3 1196.3,678.8 1191.3,679.4 1186.3,679.9 1181.3,680.5 1176.3,681.0 1171.4,681.6 1166.4,682.1 1161.4,682.7 1156.4,683.3 1151.4,683.9 1146.5,684.4 1141.5,685.0 1136.5,685.6 1131.5,686.2 1126.5,686.8 1121.6,687.5 1116.6,688.1 1111.6,688.7 1106.6,689.3 1101.7,689.9 1096.7,690.6 1091.7,691.2 1086.7,691.9 1081.8,692.5 1076.8,693.2 1071.8,693.8 1066.9,694.5 1061.9,695.1 1056.9,695.8 1051.9,696.5 1047.0,697.1 1042.0,697.8 1037.0,698.5 1032.1,699.2 1027.1,699.9 1022.1,700.6 1017.2,701.3 1012.2,702.0 1007.2,702.7 1002.3,703.4 997.3,704.1 992.3,704.8 987.4,705.5 982.4,706.3 977.4,707.0 972.5,707.7 967.5,708.4 962.5,709.2 957.6,709.9 952.6,710.6 947.6,711.4 942.7,712.1 937.7,712.9 932.7,713.6 927.8,714.4 922.8,715.1 917.8,715.9 912.9,716.6 907.9,717.4 903.0,718.1 898.0,718.9 893.0,719.7 888.1,720.4 883.1,721.2 878.1,722.0 873.2,722.7 868.2,723.5 863.2,724.3 858.3,725.1 853.3,725.8 848.3,726.6 843.4,727.4 838.4,728.2 833.4,729.0 828.5,729.8 823.5,730.6 818.5,731.4 813.6,732.2 808.6,733.1 803.7,733.9 798.8,734.8 793.8,735.7 788.9,736.6 784.0,737.6 779.1,738.6 774.2,739.6 769.3,740.6 764.4,741.7 759.5,742.8 754.6,743.9 749.8,745.1 744.9,746.3 740.1,747.6 735.3,748.9 730.5,750.3 725.7,751.7 720.9,753.1 716.2,754.6 711.4,756.2 706.7,757.8 702.0,759.4 697.3,761.2 692.6,762.9 688.0,764.8 683.3,766.7 678.7,768.6 674.1,770.6 669.6,772.7 665.0,774.8 660.5,777.0 656.0,779.2 651.5,781.5 647.0,783.8 642.6,786.2 638.2,788.6 633.8,791.1 629.5,793.6 625.1,796.2 620.8,798.9 616.6,801.5 612.3,804.3 608.1,807.0 603.9,809.9 599.8,812.7 595.6,815.6 591.6,818.6 587.5,821.6 583.5,824.6 579.5,827.7 575.5,830.9 571.6,834.0 567.7,837.3 563.9,840.5 560.0,843.8 556.3,847.2 552.5,850.5 548.8,854.0 545.1,857.4 541.5,860.9 537.9,864.5 534.4,868.0 530.9,871.6 527.4,875.3 524.0,879.0 520.6,882.7 517.3,886.4 514.0,890.2 510.7,894.0 507.5,897.9 504.4,901.7 501.2,905.6 498.2,909.6 495.1,913.6 492.2,917.6 489.2,921.6 486.3,925.6 483.5,929.7 480.7,933.8 477.9,938.0 475.1,942.2 472.4,946.3 469.8,950.6 467.2,954.8 464.6,959.1 462.0,963.3 459.5,967.7 457.0,972.0 454.6,976.3 452.1,980.7 449.7,985.1 447.4,989.5 445.1,993.9 442.8,998.4 440.5,1002.9 438.2,1007.3 436.0,1011.8 433.8,1016.4 431.7,1020.9 429.5,1025.4 427.4,1030.0 425.3,1034.5 423.3,1039.1 421.2,1043.7 419.2,1048.3 417.2,1052.9 415.2,1057.6 413.3,1062.2 411.3,1066.8 409.4,1071.5 407.5,1076.2 405.6,1080.8 403.7,1085.5 401.9,1090.2 400.0,1094.9 398.2,1099.5 396.4,1104.2 394.6,1108.9 392.8,1113.6 391.0,1118.3 389.3,1123.1 387.5,1127.8 385.8,1132.5 384.1,1137.2 382.4,1142.0 380.7,1146.7 379.1,1151.4 377.4,1156.2 375.8,1160.9 374.2,1165.7 372.6,1170.5 371.0,1175.2 369.5,1180.0 367.9,1184.8 366.4,1189.6 364.9,1194.4 363.4,1199.2 362.0,1203.9 360.5,1208.8 359.1,1213.6 357.7,1218.4 356.3,1223.2 355.0,1228.0 353.6,1232.8 352.3,1237.7 351.0,1242.5 349.7,1247.4 348.5,1252.2 347.2,1257.1 346.0,1261.9 344.8,1266.8 343.7,1271.6 342.5,1276.5 341.4,1281.4 340.3,1286.3 339.2,1291.2 338.2,1296.1 337.1,1301.0 336.1,1305.9 335.1,1310.8 334.2,1315.7 333.3,1320.6 332.3,1325.5 331.5,1330.5 330.6,1335.4 329.8,1340.3 329.0,1345.3 328.2,1350.2 327.4,1355.2 326.7,1360.1 326.0,1365.1 325.3,1370.1 324.6,1375.0 324.0,1380.0 323.4,1385.0 325.2,1380.3 327.0,1375.6 328.8,1370.9 330.7,1366.3 332.7,1361.7 334.6,1357.1 336.7,1352.5 338.7,1347.9 340.8,1343.4 343.0,1338.9 345.2,1334.4 347.4,1329.9 349.6,1325.4 351.9,1321.0 354.2,1316.5 356.5,1312.1 358.8,1307.7 361.2,1303.3 363.5,1298.9 365.9,1294.4 368.3,1290.1 370.7,1285.7 373.1,1281.3 375.5,1276.9 377.9,1272.5 380.3,1268.1 382.7,1263.7 385.1,1259.3 387.5,1254.9 389.9,1250.5 392.2,1246.1 394.6,1241.7 397.0,1237.3 399.4,1232.9 401.7,1228.5 404.1,1224.1 406.5,1219.7 408.8,1215.3 411.2,1210.9 413.6,1206.5 416.0,1202.2 418.4,1197.8 420.8,1193.4 423.2,1189.1 425.7,1184.7 428.2,1180.4 430.6,1176.1 433.2,1171.8 435.7,1167.5 438.3,1163.2 440.9,1159.0 443.5,1154.7 446.2,1150.5 448.9,1146.4 451.7,1142.2 454.4,1138.1 457.3,1134.0 460.1,1129.9 463.0,1125.8 465.9,1121.8 468.9,1117.8 471.8,1113.8 474.8,1109.8 477.9,1105.8 480.9,1101.9 484.0,1097.9 487.1,1094.0 490.3,1090.1 493.4,1086.3 496.6,1082.4 499.8,1078.6 503.1,1074.7 506.3,1070.9 509.6,1067.1 512.9,1063.3 516.2,1059.6 519.6,1055.8 522.9,1052.1 526.3,1048.3 529.7,1044.6 533.1,1040.9 536.5,1037.3 540.0,1033.6 543.4,1029.9 546.9,1026.3 550.4,1022.7 554.0,1019.1 557.5,1015.6 561.1,1012.0 564.7,1008.5 568.3,1005.0 571.9,1001.6 575.6,998.1 579.3,994.8 583.0,991.4 586.8,988.1 590.5,984.8 594.3,981.5 598.2,978.3 602.0,975.1 605.9,971.9 609.8,968.8 613.8,965.8 617.8,962.7 621.8,959.8 625.8,956.8 629.9,953.9 634.0,951.1 638.1,948.3 642.3,945.5 646.5,942.8 650.7,940.1 654.9,937.5 659.2,934.9 663.5,932.3 667.8,929.8 672.2,927.3 676.5,924.9 680.9,922.5 685.3,920.2 689.8,917.8 694.2,915.6 698.7,913.3 703.2,911.1 707.7,908.9 712.2,906.8 716.8,904.7 721.4,902.6 725.9,900.6 730.5,898.6 735.1,896.7 739.8,894.8 744.4,892.9 749.1,891.0 753.7,889.2 758.4,887.4 763.1,885.7 767.8,884.0 772.5,882.3 777.2,880.6 782.0,879.0 786.7,877.4 791.4,875.8 796.2,874.3 801.0,872.8 805.7,871.3 810.5,869.8 815.3,868.4 820.1,866.9 824.9,865.6 829.7,864.2 834.6,862.8 839.4,861.5 844.2,860.2 849.1,858.9 853.9,857.6 858.8,856.4 863.6,855.1 868.5,853.9 873.4,852.7 878.2,851.5 883.1,850.3 888.0,849.1 892.9,847.9 897.8,846.8 902.7,845.7 907.6,844.5 912.5,843.4 917.4,842.3 922.3,841.2 927.2,840.1 932.1,839.0 937.0,837.9 941.9,836.8 946.8,835.7 951.7,834.6 956.6,833.5 961.5,832.4 966.4,831.3 971.3,830.3 976.2,829.2 981.1,828.1 986.0,827.0 990.9,825.9 995.8,824.8 1000.7,823.7 1005.6,822.6 1010.5,821.4 1015.4,820.3 1020.3,819.2 1025.1,818.0 1030.0,816.9 1034.9,815.8 1039.8,814.7 1044.7,813.5 1049.5,812.4 1054.4,811.3 1059.3,810.2 1064.2,809.1 1069.1,808.0 1074.0,806.9 1078.8,805.8 1083.7,804.8 1088.6,803.7 1093.5,802.7 1098.4,801.7 1103.3,800.7 1108.2,799.7 1113.1,798.8 1118.0,797.8 1122.9,796.9 1127.8,796.0 1132.7,795.2 1137.7,794.3 1142.6,793.5 1147.5,792.7 1152.5,792.0 1157.4,791.2 1162.4,790.5 1167.3,789.9 1172.3,789.2 1177.3,788.6 1182.2,788.0 1187.2,787.5 1192.2,786.9 1197.2,786.4 1202.2,785.9 1207.2,785.5 1212.2,785.0 1217.2,784.6 1222.2,784.2 1227.2,783.8 1232.2,783.4 1237.2,783.0 1242.2,782.7 1247.2,782.4 1252.2,782.0 1257.2,781.7 1262.3,781.4 1267.3,781.2 1272.3,780.9 1277.3,780.6 1282.3,780.4 1287.4,780.2 1292.4,779.9 1297.4,779.7 1302.4,779.5 1307.4,779.3 1312.4,779.1 1317.5,778.9 1322.5,778.7 1327.5,778.5 1332.5,778.3 1337.5,778.1 1342.5,777.9 1347.5,777.7 1352.6,777.6 1357.6,777.4 1362.6,777.3 1367.6,777.1 1372.6,776.9 1377.6,776.8 1382.6,776.7 1387.6,776.5 1392.6,776.4 1397.6,776.3 1402.6,776.1 1407.7,776.0 1412.7,775.9 1417.7,775.8 1422.7,775.7 1427.7,775.5 1432.7,775.4 1437.7,775.3 1442.7,775.2 1447.7,775.1 1452.7,775.1 1457.7,775.0 1462.7,774.9 1467.7,774.8 1472.7,774.7 1477.7,774.6 1482.7,774.5 1487.7,774.5 1492.7,774.4 1497.7,774.3 1502.7,774.3 1507.7,774.2 1512.7,774.1 1517.7,774.1 1522.7,774.0 1527.7,773.9 1532.7,773.9 1537.7,773.8 1542.7,773.8 1547.7,773.7 1552.8,773.7 1557.8,773.6 1562.8,773.6 1567.8,773.5 1572.8,773.5 1577.8,773.4 1582.8,773.4 1587.8,773.3 1592.8,773.3 1597.8,773.2 1602.8,773.2 1607.8,773.1 1612.8,773.1 1617.8,773.0 1622.8,773.0 1627.8,773.0 1632.8,772.9 1637.8,772.9 1642.8,772.8 1647.8,772.8 1652.9,772.7 1657.9,772.7 1662.9,772.6 1667.9,772.6 1672.9,772.5 1677.9,772.5 1682.9,772.4 1687.9,772.4 1692.9,772.3 1698.0,772.2 1703.0,772.2 1708.0,772.1 1713.0,772.1 1718.0,772.0 1723.0,771.9 1728.0,771.9 1733.1,771.8 1738.1,771.7 1743.1,771.7 1748.1,771.6 1753.1,771.5 1758.2,771.4 1763.2,771.3 1768.2,771.3 1773.2,771.2 1778.3,771.1 1783.3,771.0 1788.3,770.9 1793.3,770.7 1798.3,770.6 1803.4,770.5 1808.4,770.4 1813.4,770.2 1818.4,770.1 1823.5,769.9 1828.5,769.7 1833.5,769.5 1838.5,769.3 1843.5,769.1 1848.6,768.9 1853.6,768.7 1858.6,768.4 1863.6,768.2 1868.6,767.9 1873.6,767.6 1878.6,767.3 1883.6,767.0 1888.6,766.7 1893.6,766.3 1898.6,765.9 1903.6,765.5 1908.6,765.1 1913.6,764.7 1918.6,764.3 1923.6,763.8 1928.6,763.3 1933.5,762.8 1938.5,762.3 1943.5,761.7 1948.5,761.2 1953.4,760.6 1958.4,759.9 1963.3,759.3 1968.3,758.6 1973.2,757.9 1978.2,757.2 1983.1,756.5 1988.1,755.7 1993.0,754.9 1997.9,754.0 2002.9,753.2 2007.8,752.3 2012.7,751.4 2017.6,750.4 2022.5,749.5 2027.4,748.4 2032.3,747.4 2037.2,746.3 2042.1,745.2 2047.0,744.1 2051.8,742.9 2056.7,741.7 2061.5,740.4 2066.4,739.1 2071.2,737.7 2075.9,736.2 2080.7,734.7 2085.4,733.1 2090.1,731.5 2094.8,729.7 2099.4,727.9 2104.0,726.0 2108.6,723.9 2113.1,721.8 2117.5,719.6 2121.9,717.3 2126.3,714.8 2130.6,712.3 2134.9,709.7 2139.1,706.9 2143.2,704.1 2147.3,701.2 2151.3,698.2 2155.3,695.1 2159.2,691.9 2163.0,688.6 2166.8,685.2 2170.5,681.8 2174.1,678.3 2177.6,674.7 2181.1,671.1 2184.5,667.4 2187.8,663.7 2191.1,659.9 2194.3,656.1 2197.4,652.2 2200.5,648.3 2203.4,644.3 2206.3,640.3 2209.2,636.2 2211.9,632.1 2214.7,627.9 2217.3,623.7 2219.9,619.5 2222.4,615.2 2224.9,610.9 2227.3,606.5 2229.6,602.1 2231.9,597.7 2234.1,593.2 2236.3,588.7 2238.4,584.2 2240.5,579.6 2242.5,575.1 2244.4,570.4 2246.3,565.8 2248.2,561.1 2250.0,556.5 2251.8,551.8 2253.5,547.0 2255.1,542.3 2256.8,537.5 2258.3,532.7 2259.9,527.9 2261.4,523.1 2262.8,518.3 2264.3,513.5 2265.6,508.6 2267.0,503.7 2268.3,498.9 2269.6,494.0 2270.8,489.1 2272.0,484.2 2273.2,479.3 2274.3,474.4 2275.4,469.5 2276.5,464.6 2277.6,459.7 2278.6,454.8 2279.6,449.9 2280.5,445.0 2281.5,440.1 2282.4,435.2 2283.3,430.2 2284.1,425.3 2284.9,420.4 2285.7,415.5 2286.5,410.5 2287.3,405.6 2288.0,400.6 2288.7,395.7 2289.4,390.8 2290.1,385.8 2290.7,380.9 2291.3,375.9 2291.9,370.9 2292.5,366.0 2293.0,361.0 2293.6,356.1 2294.1,351.1 2294.6,346.1 2295.1,341.1 2295.5,336.2 2296.0,331.2 2296.4,326.2 2296.8,321.2 2297.2,316.3 2297.6,311.3 2298.0,306.3 2298.3,301.3 2298.7,296.3 2299.0,291.3 2299.3,286.3 2299.6,281.3 2299.9,276.3 2300.2,271.3 2300.5,266.3 2300.7,261.3 2301.0,256.3 2301.2,251.3 2301.4,246.3 2301.6,241.2 2301.9,236.2 2302.1,231.2 2302.3,226.2 2302.5,221.2 2302.6,216.1 2302.8,211.1 2303.0,206.1 2303.2,201.1 2303.3,196.0 2303.5,191.0"/>
</g>
<text transform="translate(217.7,1610.8) scale(1,1.045)" font-size="66.7" text-anchor="end">-400</text>
<text transform="translate(217.7,1396.5) scale(1,1.045)" font-size="66.7" text-anchor="end">-300</text>
<text transform="translate(217.7,1182.2) scale(1,1.045)" font-size="66.7" text-anchor="end">-200</text>
<text transform="translate(217.7,967.9) scale(1,1.045)" font-size="66.7" text-anchor="end">-100</text>
<text transform="translate(217.7,753.7) scale(1,1.045)" font-size="66.7" text-anchor="end">0</text>
<text transform="translate(217.7,539.4) scale(1,1.045)" font-size="66.7" text-anchor="end">100</text>
<text transform="translate(217.7,325.1) scale(1,1.045)" font-size="66.7" text-anchor="end">200</text>
<text transform="translate(217.7,110.8) scale(1,1.045)" font-size="66.7" text-anchor="end">300</text>
<text transform="translate(325.3,1713.0) scale(1,1.045)" font-size="66.7" text-anchor="middle">-1.0</text>
<text transform="translate(547.8,1713.0) scale(1,1.045)" font-size="66.7" text-anchor="middle">-0.8</text>
<text transform="translate(770.3,1713.0) scale(1,1.045)" font-size="66.7" text-anchor="middle">-0.6</text>
<text transform="translate(992.9,1713.0) scale(1,1.045)" font-size="66.7" text-anchor="middle">-0.4</text>
<text transform="translate(1215.4,1713.0) scale(1,1.045)" font-size="66.7" text-anchor="middle">-0.2</text>
<text transform="translate(1437.9,1713.0) scale(1,1.045)" font-size="66.7" text-anchor="middle">0.0</text>
<text transform="translate(1660.4,1713.0) scale(1,1.045)" font-size="66.7" text-anchor="middle">0.2</text>
<text transform="translate(1882.9,1713.0) scale(1,1.045)" font-size="66.7" text-anchor="middle">0.4</text>
<text transform="translate(2105.5,1713.0) scale(1,1.045)" font-size="66.7" text-anchor="middle">0.6</text>
<text transform="translate(944.5,1846.8) scale(1,1.045)" font-size="88.5">E <tspan font-style="italic">vs</tspan> Ag/AgCl (V)</text>
<text transform="translate(81.5,1032.9) rotate(-90) scale(1,1.045)" font-size="88">Current (<tspan class="sym">μ</tspan>A)</text>
<rect x="1524" y="868.2" width="689.3" height="663.6" fill="#fff" stroke="#000" stroke-width="2.2"/>
<g stroke-width="12" stroke-linecap="round">
<line x1="1524.8" y1="912" x2="1672" y2="912" stroke="#000000"/>
<line x1="1524.8" y1="1095" x2="1672" y2="1095" stroke="#ff0000"/>
<line x1="1524.8" y1="1175" x2="1672" y2="1175" stroke="#0000ff"/>
<line x1="1524.8" y1="1254.6" x2="1672" y2="1254.6" stroke="#ff00ff"/>
<line x1="1524.8" y1="1335" x2="1672" y2="1335" stroke="#008000"/>
<line x1="1524.8" y1="1415" x2="1672" y2="1415" stroke="#000080"/>
<line x1="1524.8" y1="1495.5" x2="1672" y2="1495.5" stroke="#8000ff"/>
</g>
<text transform="translate(1689.3,934.0) scale(1,1.045)" font-size="66.7">bare G–SiO<tspan font-size="44" dy="15">2</tspan><tspan dy="-15">/FTO</tspan></text>
<text transform="translate(1523.2,1037.0) scale(1,1.045)" font-size="66.7">[BV6] in <tspan class="sym">μ</tspan>M</text>
<text transform="translate(1689.5,1117.5) scale(1,1.045)" font-size="66.7">4.97</text>
<text transform="translate(1689.5,1197.5) scale(1,1.045)" font-size="66.7">18</text>
<text transform="translate(1689.5,1277.1) scale(1,1.045)" font-size="66.7">25.79</text>
<text transform="translate(1689.5,1357.5) scale(1,1.045)" font-size="66.7">35.92</text>
<text transform="translate(1689.5,1437.5) scale(1,1.045)" font-size="66.7">50.95</text>
<text transform="translate(1689.5,1518.0) scale(1,1.045)" font-size="66.7">75.50</text>
</svg>
</body></html>
